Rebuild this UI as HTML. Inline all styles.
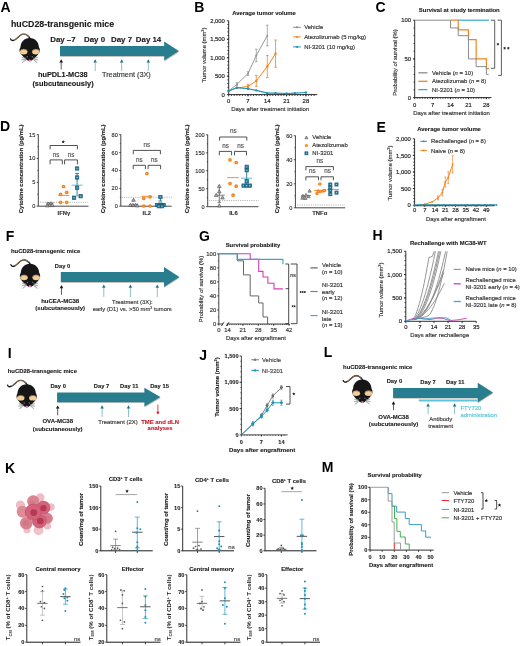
<!DOCTYPE html>
<html><head><meta charset="utf-8"><title>Figure</title>
<style>
html,body{margin:0;padding:0;background:#fff;}
svg{display:block;filter:blur(0.3px);font-family:"Liberation Sans",sans-serif;}
</style></head>
<body>
<svg width="520" height="646" viewBox="0 0 520 646">
<rect width="520" height="646" fill="#fff"/>
<text x="0.5" y="11.5" font-size="14" font-weight="bold" fill="#000">A</text>
<text x="11" y="27.2" font-size="8.8" font-weight="bold" fill="#1a1a1a" stroke="#1a1a1a" stroke-width="0.12">huCD28-transgenic mice</text>
<g transform="translate(0 0) scale(1)">
<path d="M10.6 38.9 C10.9 40.6 12.6 40.9 14.6 40.0 C17.4 38.7 19.3 35.2 22.0 34.4 C25.0 33.6 27.8 34.8 30.0 38.4" fill="none" stroke="#1a1a1a" stroke-width="1.35" stroke-linecap="round"/>
<path d="M14.8 39.7 C17.4 38.5 19.3 35.1 22.0 34.5 C24.8 33.8 27.0 34.6 28.6 36.2" fill="none" stroke="#d4a872" stroke-width="0.6" stroke-linecap="round"/>
<path d="M29.7 38.0 C24.2 38.0 20.7 42.0 20.5 47.0 C19.3 48.8 19.0 51.8 20.6 53.6 C22.6 56.2 26.0 60.4 29.7 61.4 C33.4 60.4 36.8 56.2 38.8 53.6 C40.4 51.8 40.1 48.8 38.9 47.0 C38.7 42.0 35.2 38.0 29.7 38.0 Z" fill="#161616"/>
<ellipse cx="23.7" cy="51.7" rx="3.8" ry="2.7" fill="#f2cd95"/>
<path d="M20 51.0 Q23.7 47.3 27.4 51.0" fill="none" stroke="#6b4a2a" stroke-width="0.55"/>
<ellipse cx="35.9" cy="51.7" rx="3.8" ry="2.7" fill="#f2cd95"/>
<path d="M32.2 51.0 Q35.9 47.3 39.6 51.0" fill="none" stroke="#6b4a2a" stroke-width="0.55"/>
<circle cx="27.2" cy="56.7" r="0.75" fill="#6a6a6a"/>
<circle cx="32.3" cy="56.7" r="0.75" fill="#6a6a6a"/>
<ellipse cx="29.7" cy="60.5" rx="1.3" ry="0.95" fill="#f47fb8"/>
<line x1="26.1" y1="58.4" x2="21.8" y2="57.5" stroke="#555" stroke-width="0.7"/>
<line x1="26.1" y1="58.4" x2="21.8" y2="57.5" stroke="#f4f4f4" stroke-width="0.35"/>
<line x1="26.1" y1="59.1" x2="21.5" y2="60" stroke="#555" stroke-width="0.7"/>
<line x1="26.1" y1="59.1" x2="21.5" y2="60" stroke="#f4f4f4" stroke-width="0.35"/>
<line x1="26.1" y1="59.7" x2="22.3" y2="62.6" stroke="#555" stroke-width="0.7"/>
<line x1="26.1" y1="59.7" x2="22.3" y2="62.6" stroke="#f4f4f4" stroke-width="0.35"/>
<line x1="33.3" y1="58.4" x2="37.6" y2="57.5" stroke="#555" stroke-width="0.7"/>
<line x1="33.3" y1="58.4" x2="37.6" y2="57.5" stroke="#f4f4f4" stroke-width="0.35"/>
<line x1="33.3" y1="59.1" x2="37.9" y2="60" stroke="#555" stroke-width="0.7"/>
<line x1="33.3" y1="59.1" x2="37.9" y2="60" stroke="#f4f4f4" stroke-width="0.35"/>
<line x1="33.3" y1="59.7" x2="37.1" y2="62.6" stroke="#555" stroke-width="0.7"/>
<line x1="33.3" y1="59.7" x2="37.1" y2="62.6" stroke="#f4f4f4" stroke-width="0.35"/>
</g>
<text x="50.2" y="42.3" font-size="7.9" font-weight="bold" fill="#1a1a1a" stroke="#1a1a1a" stroke-width="0.12">Day &#8211;7</text>
<text x="84" y="42.3" font-size="7.9" font-weight="bold" fill="#1a1a1a" stroke="#1a1a1a" stroke-width="0.12">Day 0</text>
<text x="111" y="42.3" font-size="7.9" font-weight="bold" fill="#1a1a1a" stroke="#1a1a1a" stroke-width="0.12">Day 7</text>
<text x="135.8" y="42.3" font-size="7.9" font-weight="bold" fill="#1a1a1a" stroke="#1a1a1a" stroke-width="0.12">Day 14</text>
<polygon points="60.3,46.9 164.5,46.9 164.5,42.3 179.2,51.9 164.5,61.5 164.5,56.9 60.3,56.9" fill="#c9c3c0"/>
<polygon points="60,46 164.2,46 164.2,41.4 178.9,51 164.2,60.6 164.2,56 60,56" fill="#287d8f"/>
<line x1="61.2" y1="61.54" x2="61.2" y2="69.5" stroke="#444" stroke-width="0.85"/>
<polygon points="61.2,59.3 59.45,62.5 62.95,62.5" fill="#111"/>
<line x1="95.2" y1="61.54" x2="95.2" y2="71" stroke="#7db3bf" stroke-width="0.85"/>
<polygon points="95.2,59.3 93.45,62.5 96.95,62.5" fill="#1f7486"/>
<line x1="121.7" y1="61.54" x2="121.7" y2="71" stroke="#7db3bf" stroke-width="0.85"/>
<polygon points="121.7,59.3 119.95,62.5 123.45,62.5" fill="#1f7486"/>
<line x1="148.3" y1="61.54" x2="148.3" y2="71" stroke="#7db3bf" stroke-width="0.85"/>
<polygon points="148.3,59.3 146.55,62.5 150.05,62.5" fill="#1f7486"/>
<text x="62.8" y="77.3" font-size="7.35" font-weight="bold" text-anchor="middle" fill="#1a1a1a" stroke="#1a1a1a" stroke-width="0.12">huPDL1-MC38</text>
<text x="63" y="86.2" font-size="7.4" font-weight="bold" text-anchor="middle" fill="#1a1a1a" stroke="#1a1a1a" stroke-width="0.12">(subcutaneously)</text>
<text x="102" y="77.4" font-size="7.3" fill="#3a3a3a" stroke="#3a3a3a" stroke-width="0.16">Treatment (3X)</text>
<text x="194.2" y="11.5" font-size="14" font-weight="bold" fill="#000">B</text>
<text x="264" y="14.6" font-size="5.9" font-weight="bold" text-anchor="middle" fill="#1a1a1a" stroke="#1a1a1a" stroke-width="0.12">Average tumor volume</text>
<line x1="228.7" y1="20.8" x2="228.7" y2="94.6" stroke="#1a1a1a" stroke-width="0.9"/>
<line x1="226.9" y1="94.6" x2="228.7" y2="94.6" stroke="#1a1a1a" stroke-width="0.9"/>
<text x="224.9" y="96.72" font-size="5.9" text-anchor="end" fill="#1a1a1a" stroke="#1a1a1a" stroke-width="0.16">0</text>
<line x1="226.9" y1="76.15" x2="228.7" y2="76.15" stroke="#1a1a1a" stroke-width="0.9"/>
<text x="224.9" y="78.27" font-size="5.9" text-anchor="end" fill="#1a1a1a" stroke="#1a1a1a" stroke-width="0.16">500</text>
<line x1="226.9" y1="57.7" x2="228.7" y2="57.7" stroke="#1a1a1a" stroke-width="0.9"/>
<text x="224.9" y="59.82" font-size="5.9" text-anchor="end" fill="#1a1a1a" stroke="#1a1a1a" stroke-width="0.16">1,000</text>
<line x1="226.9" y1="39.25" x2="228.7" y2="39.25" stroke="#1a1a1a" stroke-width="0.9"/>
<text x="224.9" y="41.37" font-size="5.9" text-anchor="end" fill="#1a1a1a" stroke="#1a1a1a" stroke-width="0.16">1,500</text>
<line x1="226.9" y1="20.8" x2="228.7" y2="20.8" stroke="#1a1a1a" stroke-width="0.9"/>
<text x="224.9" y="22.92" font-size="5.9" text-anchor="end" fill="#1a1a1a" stroke="#1a1a1a" stroke-width="0.16">2,000</text>
<line x1="227.35" y1="90.91" x2="228.7" y2="90.91" stroke="#1a1a1a" stroke-width="0.81"/>
<line x1="227.35" y1="87.22" x2="228.7" y2="87.22" stroke="#1a1a1a" stroke-width="0.81"/>
<line x1="227.35" y1="83.53" x2="228.7" y2="83.53" stroke="#1a1a1a" stroke-width="0.81"/>
<line x1="227.35" y1="79.84" x2="228.7" y2="79.84" stroke="#1a1a1a" stroke-width="0.81"/>
<line x1="227.35" y1="76.15" x2="228.7" y2="76.15" stroke="#1a1a1a" stroke-width="0.81"/>
<line x1="227.35" y1="72.46" x2="228.7" y2="72.46" stroke="#1a1a1a" stroke-width="0.81"/>
<line x1="227.35" y1="68.77" x2="228.7" y2="68.77" stroke="#1a1a1a" stroke-width="0.81"/>
<line x1="227.35" y1="65.08" x2="228.7" y2="65.08" stroke="#1a1a1a" stroke-width="0.81"/>
<line x1="227.35" y1="61.39" x2="228.7" y2="61.39" stroke="#1a1a1a" stroke-width="0.81"/>
<line x1="227.35" y1="57.7" x2="228.7" y2="57.7" stroke="#1a1a1a" stroke-width="0.81"/>
<line x1="227.35" y1="54.01" x2="228.7" y2="54.01" stroke="#1a1a1a" stroke-width="0.81"/>
<line x1="227.35" y1="50.32" x2="228.7" y2="50.32" stroke="#1a1a1a" stroke-width="0.81"/>
<line x1="227.35" y1="46.63" x2="228.7" y2="46.63" stroke="#1a1a1a" stroke-width="0.81"/>
<line x1="227.35" y1="42.94" x2="228.7" y2="42.94" stroke="#1a1a1a" stroke-width="0.81"/>
<line x1="227.35" y1="39.25" x2="228.7" y2="39.25" stroke="#1a1a1a" stroke-width="0.81"/>
<line x1="227.35" y1="35.56" x2="228.7" y2="35.56" stroke="#1a1a1a" stroke-width="0.81"/>
<line x1="227.35" y1="31.87" x2="228.7" y2="31.87" stroke="#1a1a1a" stroke-width="0.81"/>
<line x1="227.35" y1="28.18" x2="228.7" y2="28.18" stroke="#1a1a1a" stroke-width="0.81"/>
<line x1="227.35" y1="24.49" x2="228.7" y2="24.49" stroke="#1a1a1a" stroke-width="0.81"/>
<line x1="228.7" y1="94.6" x2="317.3" y2="94.6" stroke="#1a1a1a" stroke-width="0.9"/>
<line x1="228.7" y1="94.6" x2="228.7" y2="96.4" stroke="#1a1a1a" stroke-width="0.9"/>
<text x="228.7" y="102.9" font-size="5.9" text-anchor="middle" fill="#1a1a1a" stroke="#1a1a1a" stroke-width="0.16">0</text>
<line x1="248" y1="94.6" x2="248" y2="96.4" stroke="#1a1a1a" stroke-width="0.9"/>
<text x="248" y="102.9" font-size="5.9" text-anchor="middle" fill="#1a1a1a" stroke="#1a1a1a" stroke-width="0.16">7</text>
<line x1="267.3" y1="94.6" x2="267.3" y2="96.4" stroke="#1a1a1a" stroke-width="0.9"/>
<text x="267.3" y="102.9" font-size="5.9" text-anchor="middle" fill="#1a1a1a" stroke="#1a1a1a" stroke-width="0.16">14</text>
<line x1="286.6" y1="94.6" x2="286.6" y2="96.4" stroke="#1a1a1a" stroke-width="0.9"/>
<text x="286.6" y="102.9" font-size="5.9" text-anchor="middle" fill="#1a1a1a" stroke="#1a1a1a" stroke-width="0.16">21</text>
<line x1="305.9" y1="94.6" x2="305.9" y2="96.4" stroke="#1a1a1a" stroke-width="0.9"/>
<text x="305.9" y="102.9" font-size="5.9" text-anchor="middle" fill="#1a1a1a" stroke="#1a1a1a" stroke-width="0.16">28</text>
<line x1="231.46" y1="94.6" x2="231.46" y2="95.95" stroke="#1a1a1a" stroke-width="0.81"/>
<line x1="234.21" y1="94.6" x2="234.21" y2="95.95" stroke="#1a1a1a" stroke-width="0.81"/>
<line x1="236.97" y1="94.6" x2="236.97" y2="95.95" stroke="#1a1a1a" stroke-width="0.81"/>
<line x1="239.73" y1="94.6" x2="239.73" y2="95.95" stroke="#1a1a1a" stroke-width="0.81"/>
<line x1="242.48" y1="94.6" x2="242.48" y2="95.95" stroke="#1a1a1a" stroke-width="0.81"/>
<line x1="245.24" y1="94.6" x2="245.24" y2="95.95" stroke="#1a1a1a" stroke-width="0.81"/>
<line x1="248" y1="94.6" x2="248" y2="95.95" stroke="#1a1a1a" stroke-width="0.81"/>
<line x1="250.76" y1="94.6" x2="250.76" y2="95.95" stroke="#1a1a1a" stroke-width="0.81"/>
<line x1="253.51" y1="94.6" x2="253.51" y2="95.95" stroke="#1a1a1a" stroke-width="0.81"/>
<line x1="256.27" y1="94.6" x2="256.27" y2="95.95" stroke="#1a1a1a" stroke-width="0.81"/>
<line x1="259.03" y1="94.6" x2="259.03" y2="95.95" stroke="#1a1a1a" stroke-width="0.81"/>
<line x1="261.78" y1="94.6" x2="261.78" y2="95.95" stroke="#1a1a1a" stroke-width="0.81"/>
<line x1="264.54" y1="94.6" x2="264.54" y2="95.95" stroke="#1a1a1a" stroke-width="0.81"/>
<line x1="267.3" y1="94.6" x2="267.3" y2="95.95" stroke="#1a1a1a" stroke-width="0.81"/>
<line x1="270.06" y1="94.6" x2="270.06" y2="95.95" stroke="#1a1a1a" stroke-width="0.81"/>
<line x1="272.81" y1="94.6" x2="272.81" y2="95.95" stroke="#1a1a1a" stroke-width="0.81"/>
<line x1="275.57" y1="94.6" x2="275.57" y2="95.95" stroke="#1a1a1a" stroke-width="0.81"/>
<line x1="278.33" y1="94.6" x2="278.33" y2="95.95" stroke="#1a1a1a" stroke-width="0.81"/>
<line x1="281.08" y1="94.6" x2="281.08" y2="95.95" stroke="#1a1a1a" stroke-width="0.81"/>
<line x1="283.84" y1="94.6" x2="283.84" y2="95.95" stroke="#1a1a1a" stroke-width="0.81"/>
<line x1="286.6" y1="94.6" x2="286.6" y2="95.95" stroke="#1a1a1a" stroke-width="0.81"/>
<line x1="289.35" y1="94.6" x2="289.35" y2="95.95" stroke="#1a1a1a" stroke-width="0.81"/>
<line x1="292.11" y1="94.6" x2="292.11" y2="95.95" stroke="#1a1a1a" stroke-width="0.81"/>
<line x1="294.87" y1="94.6" x2="294.87" y2="95.95" stroke="#1a1a1a" stroke-width="0.81"/>
<line x1="297.62" y1="94.6" x2="297.62" y2="95.95" stroke="#1a1a1a" stroke-width="0.81"/>
<line x1="300.38" y1="94.6" x2="300.38" y2="95.95" stroke="#1a1a1a" stroke-width="0.81"/>
<line x1="303.14" y1="94.6" x2="303.14" y2="95.95" stroke="#1a1a1a" stroke-width="0.81"/>
<line x1="305.9" y1="94.6" x2="305.9" y2="95.95" stroke="#1a1a1a" stroke-width="0.81"/>
<line x1="308.65" y1="94.6" x2="308.65" y2="95.95" stroke="#1a1a1a" stroke-width="0.81"/>
<line x1="311.41" y1="94.6" x2="311.41" y2="95.95" stroke="#1a1a1a" stroke-width="0.81"/>
<line x1="314.17" y1="94.6" x2="314.17" y2="95.95" stroke="#1a1a1a" stroke-width="0.81"/>
<text x="270.2" y="110.8" font-size="6" text-anchor="middle" fill="#333" stroke="#333" stroke-width="0.16">Days after treatment initiation</text>
<text transform="translate(206.2 55) rotate(-90)" font-size="5.9" text-anchor="middle" fill="#333" stroke="#333" stroke-width="0.16">Tumor volume (mm<tspan font-size="3.8" dy="-2">3</tspan><tspan dy="2">)</tspan></text>
<polyline points="228.7,90.91 236.97,84.27 248,73.57 256.27,55.49 267.3,35.56" fill="none" stroke="#8c8c8c" stroke-width="0.9"/>
<line x1="236.97" y1="85.74" x2="236.97" y2="82.79" stroke="#8c8c8c" stroke-width="0.7"/>
<line x1="235.67" y1="85.74" x2="238.27" y2="85.74" stroke="#8c8c8c" stroke-width="0.7"/>
<line x1="235.67" y1="82.79" x2="238.27" y2="82.79" stroke="#8c8c8c" stroke-width="0.7"/>
<line x1="248" y1="75.41" x2="248" y2="71.72" stroke="#8c8c8c" stroke-width="0.7"/>
<line x1="246.7" y1="75.41" x2="249.3" y2="75.41" stroke="#8c8c8c" stroke-width="0.7"/>
<line x1="246.7" y1="71.72" x2="249.3" y2="71.72" stroke="#8c8c8c" stroke-width="0.7"/>
<line x1="256.27" y1="61.76" x2="256.27" y2="49.21" stroke="#8c8c8c" stroke-width="0.7"/>
<line x1="254.97" y1="61.76" x2="257.57" y2="61.76" stroke="#8c8c8c" stroke-width="0.7"/>
<line x1="254.97" y1="49.21" x2="257.57" y2="49.21" stroke="#8c8c8c" stroke-width="0.7"/>
<line x1="267.3" y1="45.89" x2="267.3" y2="25.23" stroke="#8c8c8c" stroke-width="0.7"/>
<line x1="266" y1="45.89" x2="268.6" y2="45.89" stroke="#8c8c8c" stroke-width="0.7"/>
<line x1="266" y1="25.23" x2="268.6" y2="25.23" stroke="#8c8c8c" stroke-width="0.7"/>
<circle cx="228.7" cy="90.91" r="0.9" fill="#8c8c8c"/>
<circle cx="236.97" cy="84.27" r="0.9" fill="#8c8c8c"/>
<circle cx="248" cy="73.57" r="0.9" fill="#8c8c8c"/>
<circle cx="256.27" cy="55.49" r="0.9" fill="#8c8c8c"/>
<circle cx="267.3" cy="35.56" r="0.9" fill="#8c8c8c"/>
<polyline points="228.7,90.91 236.97,87.96 248,86.48 256.27,80.95 267.3,66.56 275.57,53.64" fill="none" stroke="#f58220" stroke-width="1"/>
<line x1="248" y1="88.7" x2="248" y2="84.27" stroke="#f58220" stroke-width="0.8"/>
<line x1="246.7" y1="88.7" x2="249.3" y2="88.7" stroke="#f58220" stroke-width="0.8"/>
<line x1="246.7" y1="84.27" x2="249.3" y2="84.27" stroke="#f58220" stroke-width="0.8"/>
<line x1="256.27" y1="86.48" x2="256.27" y2="75.41" stroke="#f58220" stroke-width="0.8"/>
<line x1="254.97" y1="86.48" x2="257.57" y2="86.48" stroke="#f58220" stroke-width="0.8"/>
<line x1="254.97" y1="75.41" x2="257.57" y2="75.41" stroke="#f58220" stroke-width="0.8"/>
<line x1="267.3" y1="77.63" x2="267.3" y2="55.49" stroke="#f58220" stroke-width="0.8"/>
<line x1="266" y1="77.63" x2="268.6" y2="77.63" stroke="#f58220" stroke-width="0.8"/>
<line x1="266" y1="55.49" x2="268.6" y2="55.49" stroke="#f58220" stroke-width="0.8"/>
<line x1="275.57" y1="67.29" x2="275.57" y2="39.99" stroke="#f58220" stroke-width="0.8"/>
<line x1="274.27" y1="67.29" x2="276.87" y2="67.29" stroke="#f58220" stroke-width="0.8"/>
<line x1="274.27" y1="39.99" x2="276.87" y2="39.99" stroke="#f58220" stroke-width="0.8"/>
<circle cx="228.7" cy="90.91" r="1.2" fill="#f58220"/>
<circle cx="236.97" cy="87.96" r="1.2" fill="#f58220"/>
<circle cx="248" cy="86.48" r="1.2" fill="#f58220"/>
<circle cx="256.27" cy="80.95" r="1.2" fill="#f58220"/>
<circle cx="267.3" cy="66.56" r="1.2" fill="#f58220"/>
<circle cx="275.57" cy="53.64" r="1.2" fill="#f58220"/>
<polyline points="228.7,90.91 236.97,87.59 248,88.7 256.27,90.36 267.3,93.12 275.57,93.12 286.6,93.49 294.87,93.12 305.9,92.57" fill="none" stroke="#1f93b6" stroke-width="1.1"/>
<circle cx="228.7" cy="90.91" r="1.2" fill="#1f93b6"/>
<circle cx="236.97" cy="87.59" r="1.2" fill="#1f93b6"/>
<circle cx="248" cy="88.7" r="1.2" fill="#1f93b6"/>
<circle cx="256.27" cy="90.36" r="1.2" fill="#1f93b6"/>
<circle cx="267.3" cy="93.12" r="1.2" fill="#1f93b6"/>
<circle cx="275.57" cy="93.12" r="1.2" fill="#1f93b6"/>
<circle cx="286.6" cy="93.49" r="1.2" fill="#1f93b6"/>
<circle cx="294.87" cy="93.12" r="1.2" fill="#1f93b6"/>
<circle cx="305.9" cy="92.57" r="1.2" fill="#1f93b6"/>
<line x1="293.1" y1="27.3" x2="300.8" y2="27.3" stroke="#8c8c8c" stroke-width="1"/>
<circle cx="297" cy="27.3" r="1" fill="#8c8c8c"/>
<text x="304.2" y="29.4" font-size="5.9" fill="#333" stroke="#333" stroke-width="0.16">Vehicle</text>
<line x1="293.1" y1="36.9" x2="300.8" y2="36.9" stroke="#f58220" stroke-width="1"/>
<circle cx="297" cy="36.9" r="1" fill="#f58220"/>
<text x="304.2" y="39" font-size="5.9" fill="#333" stroke="#333" stroke-width="0.16">Atezolizumab (5 mg/kg)</text>
<line x1="293.1" y1="46.9" x2="300.8" y2="46.9" stroke="#1f93b6" stroke-width="1"/>
<circle cx="297" cy="46.9" r="1" fill="#1f93b6"/>
<text x="304.2" y="49" font-size="5.9" fill="#333" stroke="#333" stroke-width="0.16">NI-3201 (10 mg/kg)</text>
<text x="375.5" y="11.6" font-size="14" font-weight="bold" fill="#000">C</text>
<text x="459.3" y="11.8" font-size="5.9" font-weight="bold" text-anchor="middle" fill="#1a1a1a" stroke="#1a1a1a" stroke-width="0.12">Survival at study termination</text>
<line x1="414.7" y1="20.2" x2="414.7" y2="97.6" stroke="#1a1a1a" stroke-width="0.9"/>
<line x1="413.1" y1="97.6" x2="414.7" y2="97.6" stroke="#1a1a1a" stroke-width="0.9"/>
<text x="411.1" y="99.72" font-size="5.9" text-anchor="end" fill="#1a1a1a" stroke="#1a1a1a" stroke-width="0.16">0</text>
<line x1="413.1" y1="58.9" x2="414.7" y2="58.9" stroke="#1a1a1a" stroke-width="0.9"/>
<text x="411.1" y="61.02" font-size="5.9" text-anchor="end" fill="#1a1a1a" stroke="#1a1a1a" stroke-width="0.16">50</text>
<line x1="413.1" y1="20.2" x2="414.7" y2="20.2" stroke="#1a1a1a" stroke-width="0.9"/>
<text x="411.1" y="22.32" font-size="5.9" text-anchor="end" fill="#1a1a1a" stroke="#1a1a1a" stroke-width="0.16">100</text>
<line x1="413.5" y1="89.86" x2="414.7" y2="89.86" stroke="#1a1a1a" stroke-width="0.81"/>
<line x1="413.5" y1="82.12" x2="414.7" y2="82.12" stroke="#1a1a1a" stroke-width="0.81"/>
<line x1="413.5" y1="74.38" x2="414.7" y2="74.38" stroke="#1a1a1a" stroke-width="0.81"/>
<line x1="413.5" y1="66.64" x2="414.7" y2="66.64" stroke="#1a1a1a" stroke-width="0.81"/>
<line x1="413.5" y1="58.9" x2="414.7" y2="58.9" stroke="#1a1a1a" stroke-width="0.81"/>
<line x1="413.5" y1="51.16" x2="414.7" y2="51.16" stroke="#1a1a1a" stroke-width="0.81"/>
<line x1="413.5" y1="43.42" x2="414.7" y2="43.42" stroke="#1a1a1a" stroke-width="0.81"/>
<line x1="413.5" y1="35.68" x2="414.7" y2="35.68" stroke="#1a1a1a" stroke-width="0.81"/>
<line x1="413.5" y1="27.94" x2="414.7" y2="27.94" stroke="#1a1a1a" stroke-width="0.81"/>
<line x1="414.7" y1="97.6" x2="491.5" y2="97.6" stroke="#1a1a1a" stroke-width="0.9"/>
<line x1="414.7" y1="97.6" x2="414.7" y2="99.2" stroke="#1a1a1a" stroke-width="0.9"/>
<text x="414.7" y="106.8" font-size="5.9" text-anchor="middle" fill="#1a1a1a" stroke="#1a1a1a" stroke-width="0.16">0</text>
<line x1="432.62" y1="97.6" x2="432.62" y2="99.2" stroke="#1a1a1a" stroke-width="0.9"/>
<text x="432.62" y="106.8" font-size="5.9" text-anchor="middle" fill="#1a1a1a" stroke="#1a1a1a" stroke-width="0.16">7</text>
<line x1="450.54" y1="97.6" x2="450.54" y2="99.2" stroke="#1a1a1a" stroke-width="0.9"/>
<text x="450.54" y="106.8" font-size="5.9" text-anchor="middle" fill="#1a1a1a" stroke="#1a1a1a" stroke-width="0.16">14</text>
<line x1="468.46" y1="97.6" x2="468.46" y2="99.2" stroke="#1a1a1a" stroke-width="0.9"/>
<text x="468.46" y="106.8" font-size="5.9" text-anchor="middle" fill="#1a1a1a" stroke="#1a1a1a" stroke-width="0.16">21</text>
<line x1="486.38" y1="97.6" x2="486.38" y2="99.2" stroke="#1a1a1a" stroke-width="0.9"/>
<text x="486.38" y="106.8" font-size="5.9" text-anchor="middle" fill="#1a1a1a" stroke="#1a1a1a" stroke-width="0.16">28</text>
<line x1="417.26" y1="97.6" x2="417.26" y2="98.8" stroke="#1a1a1a" stroke-width="0.81"/>
<line x1="419.82" y1="97.6" x2="419.82" y2="98.8" stroke="#1a1a1a" stroke-width="0.81"/>
<line x1="422.38" y1="97.6" x2="422.38" y2="98.8" stroke="#1a1a1a" stroke-width="0.81"/>
<line x1="424.94" y1="97.6" x2="424.94" y2="98.8" stroke="#1a1a1a" stroke-width="0.81"/>
<line x1="427.5" y1="97.6" x2="427.5" y2="98.8" stroke="#1a1a1a" stroke-width="0.81"/>
<line x1="430.06" y1="97.6" x2="430.06" y2="98.8" stroke="#1a1a1a" stroke-width="0.81"/>
<line x1="432.62" y1="97.6" x2="432.62" y2="98.8" stroke="#1a1a1a" stroke-width="0.81"/>
<line x1="435.18" y1="97.6" x2="435.18" y2="98.8" stroke="#1a1a1a" stroke-width="0.81"/>
<line x1="437.74" y1="97.6" x2="437.74" y2="98.8" stroke="#1a1a1a" stroke-width="0.81"/>
<line x1="440.3" y1="97.6" x2="440.3" y2="98.8" stroke="#1a1a1a" stroke-width="0.81"/>
<line x1="442.86" y1="97.6" x2="442.86" y2="98.8" stroke="#1a1a1a" stroke-width="0.81"/>
<line x1="445.42" y1="97.6" x2="445.42" y2="98.8" stroke="#1a1a1a" stroke-width="0.81"/>
<line x1="447.98" y1="97.6" x2="447.98" y2="98.8" stroke="#1a1a1a" stroke-width="0.81"/>
<line x1="450.54" y1="97.6" x2="450.54" y2="98.8" stroke="#1a1a1a" stroke-width="0.81"/>
<line x1="453.1" y1="97.6" x2="453.1" y2="98.8" stroke="#1a1a1a" stroke-width="0.81"/>
<line x1="455.66" y1="97.6" x2="455.66" y2="98.8" stroke="#1a1a1a" stroke-width="0.81"/>
<line x1="458.22" y1="97.6" x2="458.22" y2="98.8" stroke="#1a1a1a" stroke-width="0.81"/>
<line x1="460.78" y1="97.6" x2="460.78" y2="98.8" stroke="#1a1a1a" stroke-width="0.81"/>
<line x1="463.34" y1="97.6" x2="463.34" y2="98.8" stroke="#1a1a1a" stroke-width="0.81"/>
<line x1="465.9" y1="97.6" x2="465.9" y2="98.8" stroke="#1a1a1a" stroke-width="0.81"/>
<line x1="468.46" y1="97.6" x2="468.46" y2="98.8" stroke="#1a1a1a" stroke-width="0.81"/>
<line x1="471.02" y1="97.6" x2="471.02" y2="98.8" stroke="#1a1a1a" stroke-width="0.81"/>
<line x1="473.58" y1="97.6" x2="473.58" y2="98.8" stroke="#1a1a1a" stroke-width="0.81"/>
<line x1="476.14" y1="97.6" x2="476.14" y2="98.8" stroke="#1a1a1a" stroke-width="0.81"/>
<line x1="478.7" y1="97.6" x2="478.7" y2="98.8" stroke="#1a1a1a" stroke-width="0.81"/>
<line x1="481.26" y1="97.6" x2="481.26" y2="98.8" stroke="#1a1a1a" stroke-width="0.81"/>
<line x1="483.82" y1="97.6" x2="483.82" y2="98.8" stroke="#1a1a1a" stroke-width="0.81"/>
<line x1="486.38" y1="97.6" x2="486.38" y2="98.8" stroke="#1a1a1a" stroke-width="0.81"/>
<line x1="488.94" y1="97.6" x2="488.94" y2="98.8" stroke="#1a1a1a" stroke-width="0.81"/>
<text x="451.6" y="114.7" font-size="5.9" text-anchor="middle" fill="#333" stroke="#333" stroke-width="0.16">Days after treatment initiation</text>
<text transform="translate(396.6 62.5) rotate(-90)" font-size="5.9" text-anchor="middle" fill="#333" stroke="#333" stroke-width="0.16">Probability of survival (%)</text>
<polyline points="458.22,29.87 468.46,29.87 468.46,39.55 476.14,39.55 476.14,58.9 486.38,58.9 486.38,68.57 488.94,68.57" fill="none" stroke="#f58220" stroke-width="1.2"/>
<polyline points="450.54,20.2 458.22,20.2 458.22,29.87" fill="none" stroke="#f58220" stroke-width="1.2"/>
<polyline points="450.54,27.94 458.22,27.94 458.22,35.68 468.46,35.68 468.46,58.9 476.14,58.9 476.14,66.64 486.38,66.64 486.38,74.38 486.38,74.38" fill="none" stroke="#8c8c8c" stroke-width="1"/>
<polyline points="414.7,20.2 450.54,20.2 450.54,27.94" fill="none" stroke="#8c8c8c" stroke-width="1"/>
<polyline points="486.38,74.38 488.68,74.38" fill="none" stroke="#8c8c8c" stroke-width="1"/>
<polyline points="458.22,20.2 489,20.2" fill="none" stroke="#3aa6cc" stroke-width="1.2"/>
<polyline points="490.8,20.2 494.7,20.2 494.7,68.3 490.8,68.3" fill="none" stroke="#333" stroke-width="0.8"/>
<line x1="497.9" y1="42.95" x2="497.9" y2="45.45" stroke="#1a1a1a" stroke-width="0.75"/>
<line x1="498.98" y1="43.58" x2="496.82" y2="44.83" stroke="#1a1a1a" stroke-width="0.75"/>
<line x1="498.98" y1="44.83" x2="496.82" y2="43.58" stroke="#1a1a1a" stroke-width="0.75"/>
<polyline points="497.6,20.2 501.4,20.2 501.4,75.4 498.1,75.4" fill="none" stroke="#333" stroke-width="0.8"/>
<line x1="504.6" y1="46.95" x2="504.6" y2="49.45" stroke="#1a1a1a" stroke-width="0.75"/>
<line x1="505.68" y1="47.58" x2="503.52" y2="48.83" stroke="#1a1a1a" stroke-width="0.75"/>
<line x1="505.68" y1="48.83" x2="503.52" y2="47.58" stroke="#1a1a1a" stroke-width="0.75"/>
<line x1="508.3" y1="46.95" x2="508.3" y2="49.45" stroke="#1a1a1a" stroke-width="0.75"/>
<line x1="509.38" y1="47.58" x2="507.22" y2="48.83" stroke="#1a1a1a" stroke-width="0.75"/>
<line x1="509.38" y1="48.83" x2="507.22" y2="47.58" stroke="#1a1a1a" stroke-width="0.75"/>
<line x1="418.4" y1="72.8" x2="427.5" y2="72.8" stroke="#8c8c8c" stroke-width="1.3"/>
<text x="432" y="74.9" font-size="5.9" fill="#333" stroke="#333" stroke-width="0.16">Vehicle (<tspan font-style="italic">n</tspan> = 10)</text>
<line x1="418.4" y1="81.3" x2="427.5" y2="81.3" stroke="#f58220" stroke-width="1.3"/>
<text x="432" y="83.4" font-size="5.9" fill="#333" stroke="#333" stroke-width="0.16">Atezolizumab (<tspan font-style="italic">n</tspan> = 8)</text>
<line x1="418.4" y1="89.6" x2="427.5" y2="89.6" stroke="#3aa6cc" stroke-width="1.3"/>
<text x="432" y="91.7" font-size="5.9" fill="#333" stroke="#333" stroke-width="0.16">NI-3201 (<tspan font-style="italic">n</tspan> = 10)</text>
<text x="0" y="131.3" font-size="14" font-weight="bold" fill="#000">D</text>
<line x1="38.3" y1="134.4" x2="38.3" y2="206.2" stroke="#222" stroke-width="0.85"/>
<line x1="36.7" y1="206.2" x2="38.3" y2="206.2" stroke="#222" stroke-width="0.8"/>
<text x="35.3" y="208.15" font-size="5.6" text-anchor="end" fill="#2a2a2a" stroke="#2a2a2a" stroke-width="0.12">0</text>
<line x1="36.7" y1="182.4" x2="38.3" y2="182.4" stroke="#222" stroke-width="0.8"/>
<text x="35.3" y="184.35" font-size="5.6" text-anchor="end" fill="#2a2a2a" stroke="#2a2a2a" stroke-width="0.12">5</text>
<line x1="36.7" y1="158.5" x2="38.3" y2="158.5" stroke="#222" stroke-width="0.8"/>
<text x="35.3" y="160.45" font-size="5.6" text-anchor="end" fill="#2a2a2a" stroke="#2a2a2a" stroke-width="0.12">10</text>
<line x1="36.7" y1="134.6" x2="38.3" y2="134.6" stroke="#222" stroke-width="0.8"/>
<text x="35.3" y="136.55" font-size="5.6" text-anchor="end" fill="#2a2a2a" stroke="#2a2a2a" stroke-width="0.12">15</text>
<line x1="37.3" y1="194.3" x2="38.3" y2="194.3" stroke="#222" stroke-width="0.6"/>
<line x1="37.3" y1="170.5" x2="38.3" y2="170.5" stroke="#222" stroke-width="0.6"/>
<line x1="37.3" y1="146.6" x2="38.3" y2="146.6" stroke="#222" stroke-width="0.6"/>
<line x1="38.3" y1="206.2" x2="88.5" y2="206.2" stroke="#333" stroke-width="0.9"/>
<text transform="translate(22.8 168.8) rotate(-90)" font-size="5.9" font-weight="bold" text-anchor="middle" fill="#1a1a1a" stroke="#1a1a1a" stroke-width="0.12">Cytokine concentration (pg/mL)</text>
<text x="64" y="215" font-size="5.9" font-weight="bold" text-anchor="middle" fill="#333" stroke="#333" stroke-width="0.12">IFN&#947;</text>
<line x1="40" y1="202.3" x2="88.5" y2="202.3" stroke="#444" stroke-width="0.6" stroke-dasharray="0.6 1.2"/>
<polyline points="50.1,149.3 50.1,145.5 77.4,145.5 77.4,149.3" fill="none" stroke="#333" stroke-width="0.85"/>
<polygon points="63.2,140.1 63.68,141.24 64.91,141.34 63.97,142.15 64.26,143.36 63.2,142.71 62.14,143.36 62.43,142.15 61.49,141.34 62.72,141.24" fill="#1a1a1a"/>
<polyline points="50.1,164.3 50.1,159.9 62.3,159.9 62.3,164.3" fill="none" stroke="#333" stroke-width="0.85"/>
<polyline points="64.6,164.3 64.6,159.9 77.4,159.9 77.4,164.3" fill="none" stroke="#333" stroke-width="0.85"/>
<text x="56.2" y="157" font-size="6.3" text-anchor="middle" fill="#555" stroke="#555" stroke-width="0.16">ns</text>
<text x="71" y="157" font-size="6.3" text-anchor="middle" fill="#555" stroke="#555" stroke-width="0.16">ns</text>
<line x1="46" y1="203" x2="54" y2="203" stroke="#777" stroke-width="0.8"/>
<polygon points="48.3,201.9 46.49,205.23 50.1,205.23" fill="#a8a8a8" stroke="#505050" stroke-width="0.6"/>
<polygon points="51,201.7 49.2,205.03 52.8,205.03" fill="#a8a8a8" stroke="#505050" stroke-width="0.6"/>
<polygon points="49.6,203.3 47.8,206.62 51.41,206.62" fill="#a8a8a8" stroke="#505050" stroke-width="0.6"/>
<polygon points="52.4,203.3 50.59,206.62 54.2,206.62" fill="#a8a8a8" stroke="#505050" stroke-width="0.6"/>
<polygon points="47.2,203.6 45.4,206.93 49.01,206.93" fill="#a8a8a8" stroke="#505050" stroke-width="0.6"/>
<line x1="58.2" y1="195.4" x2="69.2" y2="195.4" stroke="#f58220" stroke-width="0.9"/>
<circle cx="63.5" cy="186.5" r="1.85" fill="#f58220"/>
<circle cx="63.5" cy="186.5" r="0.55" fill="#fbb36b"/>
<circle cx="66.7" cy="192.3" r="1.85" fill="#f58220"/>
<circle cx="66.7" cy="192.3" r="0.55" fill="#fbb36b"/>
<circle cx="60.5" cy="194.4" r="1.85" fill="#f58220"/>
<circle cx="60.5" cy="194.4" r="0.55" fill="#fbb36b"/>
<circle cx="60.6" cy="202.3" r="1.85" fill="#f58220"/>
<circle cx="60.6" cy="202.3" r="0.55" fill="#fbb36b"/>
<circle cx="66.7" cy="202.3" r="1.85" fill="#f58220"/>
<circle cx="66.7" cy="202.3" r="0.55" fill="#fbb36b"/>
<line x1="77.1" y1="173.4" x2="77.1" y2="196.5" stroke="#1b6f8c" stroke-width="0.9"/>
<line x1="75.2" y1="173.4" x2="78.9" y2="173.4" stroke="#1b6f8c" stroke-width="0.9"/>
<line x1="71.7" y1="185.2" x2="82.6" y2="185.2" stroke="#4fb3d4" stroke-width="0.9"/>
<rect x="75.45" y="166.85" width="3.3" height="3.3" fill="#2f86a6" stroke="#175a73" stroke-width="0.75"/>
<circle cx="77.1" cy="168.5" r="0.55" fill="#9fd3e6"/>
<rect x="75.45" y="175.85" width="3.3" height="3.3" fill="#2f86a6" stroke="#175a73" stroke-width="0.75"/>
<circle cx="77.1" cy="177.5" r="0.55" fill="#9fd3e6"/>
<rect x="75.45" y="186.05" width="3.3" height="3.3" fill="#2f86a6" stroke="#175a73" stroke-width="0.75"/>
<circle cx="77.1" cy="187.7" r="0.55" fill="#9fd3e6"/>
<rect x="78.95" y="194.55" width="3.3" height="3.3" fill="#2f86a6" stroke="#175a73" stroke-width="0.75"/>
<circle cx="80.6" cy="196.2" r="0.55" fill="#9fd3e6"/>
<rect x="72.45" y="196.05" width="3.3" height="3.3" fill="#2f86a6" stroke="#175a73" stroke-width="0.75"/>
<circle cx="74.1" cy="197.7" r="0.55" fill="#9fd3e6"/>
<line x1="120.8" y1="134.4" x2="120.8" y2="206.2" stroke="#222" stroke-width="0.85"/>
<line x1="119.2" y1="206.2" x2="120.8" y2="206.2" stroke="#222" stroke-width="0.8"/>
<text x="117.8" y="208.15" font-size="5.6" text-anchor="end" fill="#2a2a2a" stroke="#2a2a2a" stroke-width="0.12">0</text>
<line x1="119.2" y1="188.4" x2="120.8" y2="188.4" stroke="#222" stroke-width="0.8"/>
<text x="117.8" y="190.35" font-size="5.6" text-anchor="end" fill="#2a2a2a" stroke="#2a2a2a" stroke-width="0.12">20</text>
<line x1="119.2" y1="170.5" x2="120.8" y2="170.5" stroke="#222" stroke-width="0.8"/>
<text x="117.8" y="172.45" font-size="5.6" text-anchor="end" fill="#2a2a2a" stroke="#2a2a2a" stroke-width="0.12">40</text>
<line x1="119.2" y1="152.6" x2="120.8" y2="152.6" stroke="#222" stroke-width="0.8"/>
<text x="117.8" y="154.55" font-size="5.6" text-anchor="end" fill="#2a2a2a" stroke="#2a2a2a" stroke-width="0.12">60</text>
<line x1="119.2" y1="134.7" x2="120.8" y2="134.7" stroke="#222" stroke-width="0.8"/>
<text x="117.8" y="136.65" font-size="5.6" text-anchor="end" fill="#2a2a2a" stroke="#2a2a2a" stroke-width="0.12">80</text>
<line x1="119.8" y1="197.3" x2="120.8" y2="197.3" stroke="#222" stroke-width="0.6"/>
<line x1="119.8" y1="179.4" x2="120.8" y2="179.4" stroke="#222" stroke-width="0.6"/>
<line x1="119.8" y1="161.5" x2="120.8" y2="161.5" stroke="#222" stroke-width="0.6"/>
<line x1="119.8" y1="143.6" x2="120.8" y2="143.6" stroke="#222" stroke-width="0.6"/>
<line x1="120.8" y1="206.2" x2="171.7" y2="206.2" stroke="#333" stroke-width="0.9"/>
<text transform="translate(105.4 168.8) rotate(-90)" font-size="5.9" font-weight="bold" text-anchor="middle" fill="#1a1a1a" stroke="#1a1a1a" stroke-width="0.12">Cytokine concentration (pg/mL)</text>
<text x="146.8" y="215" font-size="5.9" font-weight="bold" text-anchor="middle" fill="#333" stroke="#333" stroke-width="0.12">IL2</text>
<line x1="122.5" y1="197.3" x2="171.7" y2="197.3" stroke="#444" stroke-width="0.6" stroke-dasharray="0.6 1.2"/>
<polyline points="133.3,154.2 133.3,150.4 160.4,150.4 160.4,154.2" fill="none" stroke="#333" stroke-width="0.85"/>
<text x="146.8" y="146.6" font-size="6.3" text-anchor="middle" fill="#555" stroke="#555" stroke-width="0.16">ns</text>
<polyline points="133.2,169.1 133.2,165.3 145.4,165.3 145.4,169.1" fill="none" stroke="#333" stroke-width="0.85"/>
<polyline points="148.1,169.1 148.1,165.3 160.6,165.3 160.6,169.1" fill="none" stroke="#333" stroke-width="0.85"/>
<text x="139.3" y="161.6" font-size="6.3" text-anchor="middle" fill="#555" stroke="#555" stroke-width="0.16">ns</text>
<text x="154.3" y="161.6" font-size="6.3" text-anchor="middle" fill="#555" stroke="#555" stroke-width="0.16">ns</text>
<line x1="129" y1="204.6" x2="138" y2="204.6" stroke="#777" stroke-width="0.8"/>
<polygon points="133.5,198 131.69,201.33 135.31,201.33" fill="#a8a8a8" stroke="#505050" stroke-width="0.6"/>
<polygon points="130.5,203.1 128.69,206.43 132.31,206.43" fill="#a8a8a8" stroke="#505050" stroke-width="0.6"/>
<polygon points="133,203.3 131.19,206.62 134.81,206.62" fill="#a8a8a8" stroke="#505050" stroke-width="0.6"/>
<polygon points="135.6,203.1 133.79,206.43 137.41,206.43" fill="#a8a8a8" stroke="#505050" stroke-width="0.6"/>
<polygon points="137.2,203.7 135.39,207.03 139,207.03" fill="#a8a8a8" stroke="#505050" stroke-width="0.6"/>
<line x1="141.3" y1="196.3" x2="152.4" y2="196.3" stroke="#f58220" stroke-width="0.9"/>
<circle cx="146.9" cy="173.5" r="1.85" fill="#f58220"/>
<circle cx="146.9" cy="173.5" r="0.55" fill="#fbb36b"/>
<circle cx="143.75" cy="198.5" r="1.85" fill="#f58220"/>
<circle cx="143.75" cy="198.5" r="0.55" fill="#fbb36b"/>
<circle cx="150" cy="196.8" r="1.85" fill="#f58220"/>
<circle cx="150" cy="196.8" r="0.55" fill="#fbb36b"/>
<circle cx="143.75" cy="206" r="1.85" fill="#f58220"/>
<circle cx="143.75" cy="206" r="0.55" fill="#fbb36b"/>
<circle cx="150" cy="206" r="1.85" fill="#f58220"/>
<circle cx="150" cy="206" r="0.55" fill="#fbb36b"/>
<line x1="160.4" y1="197" x2="160.4" y2="201" stroke="#1b6f8c" stroke-width="0.9"/>
<line x1="158.6" y1="201" x2="162.2" y2="201" stroke="#1b6f8c" stroke-width="0.9"/>
<rect x="158.75" y="195.35" width="3.3" height="3.3" fill="#2f86a6" stroke="#175a73" stroke-width="0.75"/>
<circle cx="160.4" cy="197" r="0.55" fill="#9fd3e6"/>
<rect x="155.55" y="203.35" width="3.3" height="3.3" fill="#2f86a6" stroke="#175a73" stroke-width="0.75"/>
<circle cx="157.2" cy="205" r="0.55" fill="#9fd3e6"/>
<rect x="158.75" y="202.95" width="3.3" height="3.3" fill="#2f86a6" stroke="#175a73" stroke-width="0.75"/>
<circle cx="160.4" cy="204.6" r="0.55" fill="#9fd3e6"/>
<rect x="161.95" y="203.35" width="3.3" height="3.3" fill="#2f86a6" stroke="#175a73" stroke-width="0.75"/>
<circle cx="163.6" cy="205" r="0.55" fill="#9fd3e6"/>
<rect x="157.15" y="204.55" width="3.3" height="3.3" fill="#2f86a6" stroke="#175a73" stroke-width="0.75"/>
<circle cx="158.8" cy="206.2" r="0.55" fill="#9fd3e6"/>
<rect x="160.35" y="204.55" width="3.3" height="3.3" fill="#2f86a6" stroke="#175a73" stroke-width="0.75"/>
<circle cx="162" cy="206.2" r="0.55" fill="#9fd3e6"/>
<line x1="207.7" y1="134.6" x2="207.7" y2="206.7" stroke="#222" stroke-width="0.85"/>
<line x1="206.1" y1="206.7" x2="207.7" y2="206.7" stroke="#222" stroke-width="0.8"/>
<text x="204.7" y="208.65" font-size="5.6" text-anchor="end" fill="#2a2a2a" stroke="#2a2a2a" stroke-width="0.12">0</text>
<line x1="206.1" y1="188.7" x2="207.7" y2="188.7" stroke="#222" stroke-width="0.8"/>
<text x="204.7" y="190.65" font-size="5.6" text-anchor="end" fill="#2a2a2a" stroke="#2a2a2a" stroke-width="0.12">50</text>
<line x1="206.1" y1="170.7" x2="207.7" y2="170.7" stroke="#222" stroke-width="0.8"/>
<text x="204.7" y="172.65" font-size="5.6" text-anchor="end" fill="#2a2a2a" stroke="#2a2a2a" stroke-width="0.12">100</text>
<line x1="206.1" y1="152.8" x2="207.7" y2="152.8" stroke="#222" stroke-width="0.8"/>
<text x="204.7" y="154.75" font-size="5.6" text-anchor="end" fill="#2a2a2a" stroke="#2a2a2a" stroke-width="0.12">150</text>
<line x1="206.1" y1="134.8" x2="207.7" y2="134.8" stroke="#222" stroke-width="0.8"/>
<text x="204.7" y="136.75" font-size="5.6" text-anchor="end" fill="#2a2a2a" stroke="#2a2a2a" stroke-width="0.12">200</text>
<line x1="206.7" y1="197.7" x2="207.7" y2="197.7" stroke="#222" stroke-width="0.6"/>
<line x1="206.7" y1="179.7" x2="207.7" y2="179.7" stroke="#222" stroke-width="0.6"/>
<line x1="206.7" y1="161.7" x2="207.7" y2="161.7" stroke="#222" stroke-width="0.6"/>
<line x1="206.7" y1="143.8" x2="207.7" y2="143.8" stroke="#222" stroke-width="0.6"/>
<line x1="207.7" y1="206.7" x2="258.5" y2="206.7" stroke="#333" stroke-width="0.9"/>
<text transform="translate(189 168.8) rotate(-90)" font-size="5.9" font-weight="bold" text-anchor="middle" fill="#1a1a1a" stroke="#1a1a1a" stroke-width="0.12">Cytokine concentration (pg/mL)</text>
<text x="233.5" y="215" font-size="5.9" font-weight="bold" text-anchor="middle" fill="#333" stroke="#333" stroke-width="0.12">IL6</text>
<line x1="209.5" y1="200.5" x2="258.5" y2="200.5" stroke="#444" stroke-width="0.6" stroke-dasharray="0.6 1.2"/>
<polyline points="219.6,140.6 219.6,137 246.8,137 246.8,140.6" fill="none" stroke="#333" stroke-width="0.85"/>
<text x="233.3" y="132.6" font-size="6.3" text-anchor="middle" fill="#555" stroke="#555" stroke-width="0.16">ns</text>
<polyline points="219.3,155.3 219.3,151.4 231.6,151.4 231.6,155.3" fill="none" stroke="#333" stroke-width="0.85"/>
<polyline points="234.5,155.3 234.5,151.4 246.5,151.4 246.5,155.3" fill="none" stroke="#333" stroke-width="0.85"/>
<text x="225.5" y="147.5" font-size="6.3" text-anchor="middle" fill="#555" stroke="#555" stroke-width="0.16">ns</text>
<text x="240.5" y="147.5" font-size="6.3" text-anchor="middle" fill="#555" stroke="#555" stroke-width="0.16">ns</text>
<line x1="219.3" y1="186" x2="219.3" y2="202.4" stroke="#555" stroke-width="0.8"/>
<line x1="217.6" y1="202.4" x2="221" y2="202.4" stroke="#555" stroke-width="0.8"/>
<line x1="214.6" y1="195.2" x2="224.8" y2="195.2" stroke="#666" stroke-width="0.8"/>
<polygon points="219.3,184.2 217.5,187.53 221.11,187.53" fill="#a8a8a8" stroke="#505050" stroke-width="0.6"/>
<polygon points="219.3,189.6 217.5,192.93 221.11,192.93" fill="#a8a8a8" stroke="#505050" stroke-width="0.6"/>
<polygon points="216.25,193.3 214.44,196.62 218.06,196.62" fill="#a8a8a8" stroke="#505050" stroke-width="0.6"/>
<polygon points="222.5,195.7 220.69,199.03 224.31,199.03" fill="#a8a8a8" stroke="#505050" stroke-width="0.6"/>
<polygon points="219.3,203.7 217.5,207.03 221.11,207.03" fill="#a8a8a8" stroke="#505050" stroke-width="0.6"/>
<line x1="227.3" y1="177.6" x2="238.8" y2="177.6" stroke="#f58220" stroke-width="0.9"/>
<circle cx="230" cy="159.9" r="1.85" fill="#f58220"/>
<circle cx="230" cy="159.9" r="0.55" fill="#fbb36b"/>
<circle cx="236.2" cy="162.5" r="1.85" fill="#f58220"/>
<circle cx="236.2" cy="162.5" r="0.55" fill="#fbb36b"/>
<circle cx="230" cy="183.5" r="1.85" fill="#f58220"/>
<circle cx="230" cy="183.5" r="0.55" fill="#fbb36b"/>
<circle cx="236.2" cy="186.2" r="1.85" fill="#f58220"/>
<circle cx="236.2" cy="186.2" r="0.55" fill="#fbb36b"/>
<circle cx="233.1" cy="195.2" r="1.85" fill="#f58220"/>
<circle cx="233.1" cy="195.2" r="0.55" fill="#fbb36b"/>
<line x1="246.7" y1="166.8" x2="246.7" y2="185.6" stroke="#1b6f8c" stroke-width="0.9"/>
<line x1="241" y1="178.2" x2="252.3" y2="178.2" stroke="#4fb3d4" stroke-width="0.9"/>
<rect x="245.05" y="165.15" width="3.3" height="3.3" fill="#2f86a6" stroke="#175a73" stroke-width="0.75"/>
<circle cx="246.7" cy="166.8" r="0.55" fill="#9fd3e6"/>
<rect x="245.05" y="168.55" width="3.3" height="3.3" fill="#2f86a6" stroke="#175a73" stroke-width="0.75"/>
<circle cx="246.7" cy="170.2" r="0.55" fill="#9fd3e6"/>
<rect x="245.05" y="179.6" width="3.3" height="3.3" fill="#2f86a6" stroke="#175a73" stroke-width="0.75"/>
<circle cx="246.7" cy="181.25" r="0.55" fill="#9fd3e6"/>
<rect x="241.95" y="183.95" width="3.3" height="3.3" fill="#2f86a6" stroke="#175a73" stroke-width="0.75"/>
<circle cx="243.6" cy="185.6" r="0.55" fill="#9fd3e6"/>
<rect x="245.05" y="183.95" width="3.3" height="3.3" fill="#2f86a6" stroke="#175a73" stroke-width="0.75"/>
<circle cx="246.7" cy="185.6" r="0.55" fill="#9fd3e6"/>
<rect x="248.15" y="183.95" width="3.3" height="3.3" fill="#2f86a6" stroke="#175a73" stroke-width="0.75"/>
<circle cx="249.8" cy="185.6" r="0.55" fill="#9fd3e6"/>
<line x1="295.4" y1="135.6" x2="295.4" y2="207.8" stroke="#222" stroke-width="0.85"/>
<line x1="293.8" y1="207.8" x2="295.4" y2="207.8" stroke="#222" stroke-width="0.8"/>
<text x="292.4" y="209.75" font-size="5.6" text-anchor="end" fill="#2a2a2a" stroke="#2a2a2a" stroke-width="0.12">0</text>
<line x1="293.8" y1="183.8" x2="295.4" y2="183.8" stroke="#222" stroke-width="0.8"/>
<text x="292.4" y="185.75" font-size="5.6" text-anchor="end" fill="#2a2a2a" stroke="#2a2a2a" stroke-width="0.12">20</text>
<line x1="293.8" y1="159.7" x2="295.4" y2="159.7" stroke="#222" stroke-width="0.8"/>
<text x="292.4" y="161.65" font-size="5.6" text-anchor="end" fill="#2a2a2a" stroke="#2a2a2a" stroke-width="0.12">40</text>
<line x1="293.8" y1="135.7" x2="295.4" y2="135.7" stroke="#222" stroke-width="0.8"/>
<text x="292.4" y="137.65" font-size="5.6" text-anchor="end" fill="#2a2a2a" stroke="#2a2a2a" stroke-width="0.12">60</text>
<line x1="294.4" y1="195.8" x2="295.4" y2="195.8" stroke="#222" stroke-width="0.6"/>
<line x1="294.4" y1="171.7" x2="295.4" y2="171.7" stroke="#222" stroke-width="0.6"/>
<line x1="294.4" y1="147.7" x2="295.4" y2="147.7" stroke="#222" stroke-width="0.6"/>
<line x1="295.4" y1="207.8" x2="345.2" y2="207.8" stroke="#333" stroke-width="0.9"/>
<text transform="translate(278.8 168.8) rotate(-90)" font-size="5.9" font-weight="bold" text-anchor="middle" fill="#1a1a1a" stroke="#1a1a1a" stroke-width="0.12">Cytokine concentration (pg/mL)</text>
<text x="319.8" y="215" font-size="5.9" font-weight="bold" text-anchor="middle" fill="#333" stroke="#333" stroke-width="0.12">TNF&#945;</text>
<line x1="297" y1="205" x2="345.2" y2="205" stroke="#444" stroke-width="0.6" stroke-dasharray="0.6 1.2"/>
<polyline points="305.9,170.3 305.9,166.6 333.4,166.6 333.4,170.3" fill="none" stroke="#333" stroke-width="0.85"/>
<text x="319.8" y="162.6" font-size="6.3" text-anchor="middle" fill="#555" stroke="#555" stroke-width="0.16">ns</text>
<polyline points="305.9,180.3 305.9,176.8 318.5,176.8 318.5,180.3" fill="none" stroke="#333" stroke-width="0.85"/>
<polyline points="321,180.3 321,176.8 333.4,176.8 333.4,180.3" fill="none" stroke="#333" stroke-width="0.85"/>
<text x="312.3" y="172.8" font-size="6.3" text-anchor="middle" fill="#555" stroke="#555" stroke-width="0.16">ns</text>
<text x="327.5" y="172.8" font-size="6.3" text-anchor="middle" fill="#555" stroke="#555" stroke-width="0.16">ns</text>
<line x1="301" y1="195.5" x2="311" y2="195.5" stroke="#777" stroke-width="0.8"/>
<polygon points="309.6,189.2 307.99,192.18 311.22,192.18" fill="#a8a8a8" stroke="#505050" stroke-width="0.6"/>
<polygon points="303,194.3 301.38,197.28 304.62,197.28" fill="#a8a8a8" stroke="#505050" stroke-width="0.6"/>
<polygon points="306,193.3 304.38,196.28 307.62,196.28" fill="#a8a8a8" stroke="#505050" stroke-width="0.6"/>
<polygon points="308.6,194.8 306.99,197.78 310.22,197.78" fill="#a8a8a8" stroke="#505050" stroke-width="0.6"/>
<polygon points="302.4,196.3 300.78,199.28 304.01,199.28" fill="#a8a8a8" stroke="#505050" stroke-width="0.6"/>
<polygon points="305.4,196.5 303.78,199.47 307.01,199.47" fill="#a8a8a8" stroke="#505050" stroke-width="0.6"/>
<line x1="314.2" y1="190.5" x2="324.7" y2="190.5" stroke="#f58220" stroke-width="0.9"/>
<circle cx="319.8" cy="183.9" r="1.75" fill="#f58220"/>
<circle cx="319.8" cy="183.9" r="0.55" fill="#fbb36b"/>
<circle cx="317" cy="193.6" r="1.75" fill="#f58220"/>
<circle cx="317" cy="193.6" r="0.55" fill="#fbb36b"/>
<circle cx="320" cy="191.6" r="1.75" fill="#f58220"/>
<circle cx="320" cy="191.6" r="0.55" fill="#fbb36b"/>
<circle cx="322.8" cy="191" r="1.75" fill="#f58220"/>
<circle cx="322.8" cy="191" r="0.55" fill="#fbb36b"/>
<circle cx="324.6" cy="190.6" r="1.75" fill="#f58220"/>
<circle cx="324.6" cy="190.6" r="0.55" fill="#fbb36b"/>
<circle cx="318.2" cy="191" r="1.75" fill="#f58220"/>
<circle cx="318.2" cy="191" r="0.55" fill="#fbb36b"/>
<line x1="330.3" y1="184.5" x2="330.3" y2="194.2" stroke="#1b6f8c" stroke-width="0.9"/>
<line x1="327" y1="189.5" x2="339" y2="189.5" stroke="#4fb3d4" stroke-width="0.9"/>
<rect x="328.75" y="182.95" width="3.1" height="3.1" fill="#2f86a6" stroke="#175a73" stroke-width="0.75"/>
<circle cx="330.3" cy="184.5" r="0.55" fill="#9fd3e6"/>
<rect x="334.95" y="182.95" width="3.1" height="3.1" fill="#2f86a6" stroke="#175a73" stroke-width="0.75"/>
<circle cx="336.5" cy="184.5" r="0.55" fill="#9fd3e6"/>
<rect x="328.75" y="188.95" width="3.1" height="3.1" fill="#2f86a6" stroke="#175a73" stroke-width="0.75"/>
<circle cx="330.3" cy="190.5" r="0.55" fill="#9fd3e6"/>
<rect x="328.75" y="192.65" width="3.1" height="3.1" fill="#2f86a6" stroke="#175a73" stroke-width="0.75"/>
<circle cx="330.3" cy="194.2" r="0.55" fill="#9fd3e6"/>
<rect x="334.95" y="191.05" width="3.1" height="3.1" fill="#2f86a6" stroke="#175a73" stroke-width="0.75"/>
<circle cx="336.5" cy="192.6" r="0.55" fill="#9fd3e6"/>
<rect x="328.75" y="186.05" width="3.1" height="3.1" fill="#2f86a6" stroke="#175a73" stroke-width="0.75"/>
<circle cx="330.3" cy="187.6" r="0.55" fill="#9fd3e6"/>
<polygon points="306.4,136 304.88,138.8 307.92,138.8" fill="#a8a8a8" stroke="#505050" stroke-width="0.6"/>
<text x="312.3" y="139" font-size="5.9" fill="#333" stroke="#333" stroke-width="0.16">Vehicle</text>
<circle cx="306.4" cy="145.5" r="1.6" fill="#f58220"/>
<circle cx="306.4" cy="145.5" r="0.55" fill="#fbb36b"/>
<text x="312.3" y="147.3" font-size="5.9" fill="#333" stroke="#333" stroke-width="0.16">Atezolizumab</text>
<rect x="304.95" y="151.85" width="2.9" height="2.9" fill="#2f86a6" stroke="#175a73" stroke-width="0.75"/>
<circle cx="306.4" cy="153.3" r="0.55" fill="#9fd3e6"/>
<text x="312.3" y="155.1" font-size="5.9" fill="#333" stroke="#333" stroke-width="0.16">NI-3201</text>
<text x="376.4" y="131.8" font-size="14" font-weight="bold" fill="#000">E</text>
<text x="449.1" y="131" font-size="5.9" font-weight="bold" text-anchor="middle" fill="#1a1a1a" stroke="#1a1a1a" stroke-width="0.12">Average tumor volume</text>
<line x1="414.6" y1="138.8" x2="414.6" y2="205.2" stroke="#1a1a1a" stroke-width="0.9"/>
<line x1="412.8" y1="205.2" x2="414.6" y2="205.2" stroke="#1a1a1a" stroke-width="0.9"/>
<text x="410.8" y="207.32" font-size="5.9" text-anchor="end" fill="#1a1a1a" stroke="#1a1a1a" stroke-width="0.16">0</text>
<line x1="412.8" y1="188.6" x2="414.6" y2="188.6" stroke="#1a1a1a" stroke-width="0.9"/>
<text x="410.8" y="190.72" font-size="5.9" text-anchor="end" fill="#1a1a1a" stroke="#1a1a1a" stroke-width="0.16">500</text>
<line x1="412.8" y1="172" x2="414.6" y2="172" stroke="#1a1a1a" stroke-width="0.9"/>
<text x="410.8" y="174.12" font-size="5.9" text-anchor="end" fill="#1a1a1a" stroke="#1a1a1a" stroke-width="0.16">1,000</text>
<line x1="412.8" y1="155.4" x2="414.6" y2="155.4" stroke="#1a1a1a" stroke-width="0.9"/>
<text x="410.8" y="157.52" font-size="5.9" text-anchor="end" fill="#1a1a1a" stroke="#1a1a1a" stroke-width="0.16">1,500</text>
<line x1="412.8" y1="138.8" x2="414.6" y2="138.8" stroke="#1a1a1a" stroke-width="0.9"/>
<text x="410.8" y="140.92" font-size="5.9" text-anchor="end" fill="#1a1a1a" stroke="#1a1a1a" stroke-width="0.16">2,000</text>
<line x1="413.25" y1="201.88" x2="414.6" y2="201.88" stroke="#1a1a1a" stroke-width="0.81"/>
<line x1="413.25" y1="198.56" x2="414.6" y2="198.56" stroke="#1a1a1a" stroke-width="0.81"/>
<line x1="413.25" y1="195.24" x2="414.6" y2="195.24" stroke="#1a1a1a" stroke-width="0.81"/>
<line x1="413.25" y1="191.92" x2="414.6" y2="191.92" stroke="#1a1a1a" stroke-width="0.81"/>
<line x1="413.25" y1="188.6" x2="414.6" y2="188.6" stroke="#1a1a1a" stroke-width="0.81"/>
<line x1="413.25" y1="185.28" x2="414.6" y2="185.28" stroke="#1a1a1a" stroke-width="0.81"/>
<line x1="413.25" y1="181.96" x2="414.6" y2="181.96" stroke="#1a1a1a" stroke-width="0.81"/>
<line x1="413.25" y1="178.64" x2="414.6" y2="178.64" stroke="#1a1a1a" stroke-width="0.81"/>
<line x1="413.25" y1="175.32" x2="414.6" y2="175.32" stroke="#1a1a1a" stroke-width="0.81"/>
<line x1="413.25" y1="172" x2="414.6" y2="172" stroke="#1a1a1a" stroke-width="0.81"/>
<line x1="413.25" y1="168.68" x2="414.6" y2="168.68" stroke="#1a1a1a" stroke-width="0.81"/>
<line x1="413.25" y1="165.36" x2="414.6" y2="165.36" stroke="#1a1a1a" stroke-width="0.81"/>
<line x1="413.25" y1="162.04" x2="414.6" y2="162.04" stroke="#1a1a1a" stroke-width="0.81"/>
<line x1="413.25" y1="158.72" x2="414.6" y2="158.72" stroke="#1a1a1a" stroke-width="0.81"/>
<line x1="413.25" y1="155.4" x2="414.6" y2="155.4" stroke="#1a1a1a" stroke-width="0.81"/>
<line x1="413.25" y1="152.08" x2="414.6" y2="152.08" stroke="#1a1a1a" stroke-width="0.81"/>
<line x1="413.25" y1="148.76" x2="414.6" y2="148.76" stroke="#1a1a1a" stroke-width="0.81"/>
<line x1="413.25" y1="145.44" x2="414.6" y2="145.44" stroke="#1a1a1a" stroke-width="0.81"/>
<line x1="413.25" y1="142.12" x2="414.6" y2="142.12" stroke="#1a1a1a" stroke-width="0.81"/>
<line x1="414.6" y1="205.2" x2="495" y2="205.2" stroke="#1a1a1a" stroke-width="0.9"/>
<line x1="414.6" y1="205.2" x2="414.6" y2="206.8" stroke="#1a1a1a" stroke-width="0.9"/>
<text x="414.6" y="212.3" font-size="5.9" text-anchor="middle" fill="#1a1a1a" stroke="#1a1a1a" stroke-width="0.16">0</text>
<line x1="424.84" y1="205.2" x2="424.84" y2="206.8" stroke="#1a1a1a" stroke-width="0.9"/>
<text x="424.84" y="212.3" font-size="5.9" text-anchor="middle" fill="#1a1a1a" stroke="#1a1a1a" stroke-width="0.16">7</text>
<line x1="435.08" y1="205.2" x2="435.08" y2="206.8" stroke="#1a1a1a" stroke-width="0.9"/>
<text x="435.08" y="212.3" font-size="5.9" text-anchor="middle" fill="#1a1a1a" stroke="#1a1a1a" stroke-width="0.16">14</text>
<line x1="445.32" y1="205.2" x2="445.32" y2="206.8" stroke="#1a1a1a" stroke-width="0.9"/>
<text x="445.32" y="212.3" font-size="5.9" text-anchor="middle" fill="#1a1a1a" stroke="#1a1a1a" stroke-width="0.16">21</text>
<line x1="455.56" y1="205.2" x2="455.56" y2="206.8" stroke="#1a1a1a" stroke-width="0.9"/>
<text x="455.56" y="212.3" font-size="5.9" text-anchor="middle" fill="#1a1a1a" stroke="#1a1a1a" stroke-width="0.16">28</text>
<line x1="465.81" y1="205.2" x2="465.81" y2="206.8" stroke="#1a1a1a" stroke-width="0.9"/>
<text x="465.81" y="212.3" font-size="5.9" text-anchor="middle" fill="#1a1a1a" stroke="#1a1a1a" stroke-width="0.16">35</text>
<line x1="476.05" y1="205.2" x2="476.05" y2="206.8" stroke="#1a1a1a" stroke-width="0.9"/>
<text x="476.05" y="212.3" font-size="5.9" text-anchor="middle" fill="#1a1a1a" stroke="#1a1a1a" stroke-width="0.16">42</text>
<line x1="486.29" y1="205.2" x2="486.29" y2="206.8" stroke="#1a1a1a" stroke-width="0.9"/>
<text x="486.29" y="212.3" font-size="5.9" text-anchor="middle" fill="#1a1a1a" stroke="#1a1a1a" stroke-width="0.16">49</text>
<line x1="416.06" y1="205.2" x2="416.06" y2="206.4" stroke="#1a1a1a" stroke-width="0.81"/>
<line x1="417.53" y1="205.2" x2="417.53" y2="206.4" stroke="#1a1a1a" stroke-width="0.81"/>
<line x1="418.99" y1="205.2" x2="418.99" y2="206.4" stroke="#1a1a1a" stroke-width="0.81"/>
<line x1="420.45" y1="205.2" x2="420.45" y2="206.4" stroke="#1a1a1a" stroke-width="0.81"/>
<line x1="421.92" y1="205.2" x2="421.92" y2="206.4" stroke="#1a1a1a" stroke-width="0.81"/>
<line x1="423.38" y1="205.2" x2="423.38" y2="206.4" stroke="#1a1a1a" stroke-width="0.81"/>
<line x1="424.84" y1="205.2" x2="424.84" y2="206.4" stroke="#1a1a1a" stroke-width="0.81"/>
<line x1="426.3" y1="205.2" x2="426.3" y2="206.4" stroke="#1a1a1a" stroke-width="0.81"/>
<line x1="427.77" y1="205.2" x2="427.77" y2="206.4" stroke="#1a1a1a" stroke-width="0.81"/>
<line x1="429.23" y1="205.2" x2="429.23" y2="206.4" stroke="#1a1a1a" stroke-width="0.81"/>
<line x1="430.69" y1="205.2" x2="430.69" y2="206.4" stroke="#1a1a1a" stroke-width="0.81"/>
<line x1="432.16" y1="205.2" x2="432.16" y2="206.4" stroke="#1a1a1a" stroke-width="0.81"/>
<line x1="433.62" y1="205.2" x2="433.62" y2="206.4" stroke="#1a1a1a" stroke-width="0.81"/>
<line x1="435.08" y1="205.2" x2="435.08" y2="206.4" stroke="#1a1a1a" stroke-width="0.81"/>
<line x1="436.55" y1="205.2" x2="436.55" y2="206.4" stroke="#1a1a1a" stroke-width="0.81"/>
<line x1="438.01" y1="205.2" x2="438.01" y2="206.4" stroke="#1a1a1a" stroke-width="0.81"/>
<line x1="439.47" y1="205.2" x2="439.47" y2="206.4" stroke="#1a1a1a" stroke-width="0.81"/>
<line x1="440.93" y1="205.2" x2="440.93" y2="206.4" stroke="#1a1a1a" stroke-width="0.81"/>
<line x1="442.4" y1="205.2" x2="442.4" y2="206.4" stroke="#1a1a1a" stroke-width="0.81"/>
<line x1="443.86" y1="205.2" x2="443.86" y2="206.4" stroke="#1a1a1a" stroke-width="0.81"/>
<line x1="445.32" y1="205.2" x2="445.32" y2="206.4" stroke="#1a1a1a" stroke-width="0.81"/>
<line x1="446.79" y1="205.2" x2="446.79" y2="206.4" stroke="#1a1a1a" stroke-width="0.81"/>
<line x1="448.25" y1="205.2" x2="448.25" y2="206.4" stroke="#1a1a1a" stroke-width="0.81"/>
<line x1="449.71" y1="205.2" x2="449.71" y2="206.4" stroke="#1a1a1a" stroke-width="0.81"/>
<line x1="451.18" y1="205.2" x2="451.18" y2="206.4" stroke="#1a1a1a" stroke-width="0.81"/>
<line x1="452.64" y1="205.2" x2="452.64" y2="206.4" stroke="#1a1a1a" stroke-width="0.81"/>
<line x1="454.1" y1="205.2" x2="454.1" y2="206.4" stroke="#1a1a1a" stroke-width="0.81"/>
<line x1="455.56" y1="205.2" x2="455.56" y2="206.4" stroke="#1a1a1a" stroke-width="0.81"/>
<line x1="457.03" y1="205.2" x2="457.03" y2="206.4" stroke="#1a1a1a" stroke-width="0.81"/>
<line x1="458.49" y1="205.2" x2="458.49" y2="206.4" stroke="#1a1a1a" stroke-width="0.81"/>
<line x1="459.95" y1="205.2" x2="459.95" y2="206.4" stroke="#1a1a1a" stroke-width="0.81"/>
<line x1="461.42" y1="205.2" x2="461.42" y2="206.4" stroke="#1a1a1a" stroke-width="0.81"/>
<line x1="462.88" y1="205.2" x2="462.88" y2="206.4" stroke="#1a1a1a" stroke-width="0.81"/>
<line x1="464.34" y1="205.2" x2="464.34" y2="206.4" stroke="#1a1a1a" stroke-width="0.81"/>
<line x1="465.81" y1="205.2" x2="465.81" y2="206.4" stroke="#1a1a1a" stroke-width="0.81"/>
<line x1="467.27" y1="205.2" x2="467.27" y2="206.4" stroke="#1a1a1a" stroke-width="0.81"/>
<line x1="468.73" y1="205.2" x2="468.73" y2="206.4" stroke="#1a1a1a" stroke-width="0.81"/>
<line x1="470.19" y1="205.2" x2="470.19" y2="206.4" stroke="#1a1a1a" stroke-width="0.81"/>
<line x1="471.66" y1="205.2" x2="471.66" y2="206.4" stroke="#1a1a1a" stroke-width="0.81"/>
<line x1="473.12" y1="205.2" x2="473.12" y2="206.4" stroke="#1a1a1a" stroke-width="0.81"/>
<line x1="474.58" y1="205.2" x2="474.58" y2="206.4" stroke="#1a1a1a" stroke-width="0.81"/>
<line x1="476.05" y1="205.2" x2="476.05" y2="206.4" stroke="#1a1a1a" stroke-width="0.81"/>
<line x1="477.51" y1="205.2" x2="477.51" y2="206.4" stroke="#1a1a1a" stroke-width="0.81"/>
<line x1="478.97" y1="205.2" x2="478.97" y2="206.4" stroke="#1a1a1a" stroke-width="0.81"/>
<line x1="480.44" y1="205.2" x2="480.44" y2="206.4" stroke="#1a1a1a" stroke-width="0.81"/>
<line x1="481.9" y1="205.2" x2="481.9" y2="206.4" stroke="#1a1a1a" stroke-width="0.81"/>
<line x1="483.36" y1="205.2" x2="483.36" y2="206.4" stroke="#1a1a1a" stroke-width="0.81"/>
<line x1="484.82" y1="205.2" x2="484.82" y2="206.4" stroke="#1a1a1a" stroke-width="0.81"/>
<line x1="486.29" y1="205.2" x2="486.29" y2="206.4" stroke="#1a1a1a" stroke-width="0.81"/>
<line x1="487.75" y1="205.2" x2="487.75" y2="206.4" stroke="#1a1a1a" stroke-width="0.81"/>
<line x1="489.21" y1="205.2" x2="489.21" y2="206.4" stroke="#1a1a1a" stroke-width="0.81"/>
<line x1="490.68" y1="205.2" x2="490.68" y2="206.4" stroke="#1a1a1a" stroke-width="0.81"/>
<line x1="492.14" y1="205.2" x2="492.14" y2="206.4" stroke="#1a1a1a" stroke-width="0.81"/>
<line x1="493.6" y1="205.2" x2="493.6" y2="206.4" stroke="#1a1a1a" stroke-width="0.81"/>
<text x="456" y="221" font-size="5.9" text-anchor="middle" fill="#333" stroke="#333" stroke-width="0.16">Days after engraftment</text>
<text transform="translate(391.8 173) rotate(-90)" font-size="5.9" text-anchor="middle" fill="#333" stroke="#333" stroke-width="0.16">Tumor volume (mm<tspan font-size="3.8" dy="-2">3</tspan><tspan dy="2">)</tspan></text>
<polyline points="421.92,204.87 424.84,204.2 432.16,201.88 438.01,197.9 442.4,192.58 445.32,181.96 448.25,177.64 452.64,164.36" fill="none" stroke="#f58220" stroke-width="1"/>
<line x1="438.01" y1="199.89" x2="438.01" y2="195.9" stroke="#f58220" stroke-width="0.7"/>
<line x1="437.01" y1="199.89" x2="439.01" y2="199.89" stroke="#f58220" stroke-width="0.7"/>
<line x1="437.01" y1="195.9" x2="439.01" y2="195.9" stroke="#f58220" stroke-width="0.7"/>
<line x1="442.4" y1="195.9" x2="442.4" y2="189.26" stroke="#f58220" stroke-width="0.7"/>
<line x1="441.4" y1="195.9" x2="443.4" y2="195.9" stroke="#f58220" stroke-width="0.7"/>
<line x1="441.4" y1="189.26" x2="443.4" y2="189.26" stroke="#f58220" stroke-width="0.7"/>
<line x1="445.32" y1="186.94" x2="445.32" y2="176.98" stroke="#f58220" stroke-width="0.7"/>
<line x1="444.32" y1="186.94" x2="446.32" y2="186.94" stroke="#f58220" stroke-width="0.7"/>
<line x1="444.32" y1="176.98" x2="446.32" y2="176.98" stroke="#f58220" stroke-width="0.7"/>
<line x1="448.25" y1="183.62" x2="448.25" y2="171.67" stroke="#f58220" stroke-width="0.7"/>
<line x1="447.25" y1="183.62" x2="449.25" y2="183.62" stroke="#f58220" stroke-width="0.7"/>
<line x1="447.25" y1="171.67" x2="449.25" y2="171.67" stroke="#f58220" stroke-width="0.7"/>
<line x1="452.64" y1="173" x2="452.64" y2="155.73" stroke="#f58220" stroke-width="0.7"/>
<line x1="451.64" y1="173" x2="453.64" y2="173" stroke="#f58220" stroke-width="0.7"/>
<line x1="451.64" y1="155.73" x2="453.64" y2="155.73" stroke="#f58220" stroke-width="0.7"/>
<circle cx="421.92" cy="204.87" r="0.9" fill="#f58220"/>
<circle cx="424.84" cy="204.2" r="0.9" fill="#f58220"/>
<circle cx="432.16" cy="201.88" r="0.9" fill="#f58220"/>
<circle cx="438.01" cy="197.9" r="0.9" fill="#f58220"/>
<circle cx="442.4" cy="192.58" r="0.9" fill="#f58220"/>
<circle cx="445.32" cy="181.96" r="0.9" fill="#f58220"/>
<circle cx="448.25" cy="177.64" r="0.9" fill="#f58220"/>
<circle cx="452.64" cy="164.36" r="0.9" fill="#f58220"/>
<polyline points="414.6,204.93 420.45,204.93 426.3,204.93 432.16,204.93 438.01,204.93 443.86,204.93 449.71,204.93 455.56,204.93 461.42,204.93 467.27,204.93 473.12,204.93 478.97,204.93 484.82,204.93 490.68,204.93 496.53,204.93" fill="none" stroke="#1f93b6" stroke-width="1"/>
<circle cx="414.6" cy="204.93" r="0.9" fill="#1f93b6"/>
<circle cx="420.45" cy="204.93" r="0.9" fill="#1f93b6"/>
<circle cx="426.3" cy="204.93" r="0.9" fill="#1f93b6"/>
<circle cx="432.16" cy="204.93" r="0.9" fill="#1f93b6"/>
<circle cx="438.01" cy="204.93" r="0.9" fill="#1f93b6"/>
<circle cx="443.86" cy="204.93" r="0.9" fill="#1f93b6"/>
<circle cx="449.71" cy="204.93" r="0.9" fill="#1f93b6"/>
<circle cx="455.56" cy="204.93" r="0.9" fill="#1f93b6"/>
<circle cx="461.42" cy="204.93" r="0.9" fill="#1f93b6"/>
<circle cx="467.27" cy="204.93" r="0.9" fill="#1f93b6"/>
<circle cx="473.12" cy="204.93" r="0.9" fill="#1f93b6"/>
<circle cx="478.97" cy="204.93" r="0.9" fill="#1f93b6"/>
<circle cx="484.82" cy="204.93" r="0.9" fill="#1f93b6"/>
<circle cx="490.68" cy="204.93" r="0.9" fill="#1f93b6"/>
<circle cx="496.53" cy="204.93" r="0.9" fill="#1f93b6"/>
<line x1="420.4" y1="141.3" x2="427" y2="141.3" stroke="#1f93b6" stroke-width="1"/>
<circle cx="423.7" cy="141.3" r="0.9" fill="#1f93b6"/>
<text x="431" y="143.4" font-size="5.9" fill="#333" stroke="#333" stroke-width="0.16">Rechallenged (<tspan font-style="italic">n</tspan> = 8)</text>
<line x1="420.4" y1="150.4" x2="427" y2="150.4" stroke="#f58220" stroke-width="1"/>
<circle cx="423.7" cy="150.4" r="0.9" fill="#f58220"/>
<text x="431" y="152.5" font-size="5.9" fill="#333" stroke="#333" stroke-width="0.16">Naive (<tspan font-style="italic">n</tspan> = 8)</text>
<text x="5.8" y="241" font-size="14" font-weight="bold" fill="#000">F</text>
<text x="11" y="252.6" font-size="5.92" font-weight="bold" fill="#1a1a1a" stroke="#1a1a1a" stroke-width="0.12">huCD28-transgenic mice</text>
<g transform="translate(0.3 225.8) scale(1)">
<path d="M10.6 38.9 C10.9 40.6 12.6 40.9 14.6 40.0 C17.4 38.7 19.3 35.2 22.0 34.4 C25.0 33.6 27.8 34.8 30.0 38.4" fill="none" stroke="#1a1a1a" stroke-width="1.35" stroke-linecap="round"/>
<path d="M14.8 39.7 C17.4 38.5 19.3 35.1 22.0 34.5 C24.8 33.8 27.0 34.6 28.6 36.2" fill="none" stroke="#d4a872" stroke-width="0.6" stroke-linecap="round"/>
<path d="M29.7 38.0 C24.2 38.0 20.7 42.0 20.5 47.0 C19.3 48.8 19.0 51.8 20.6 53.6 C22.6 56.2 26.0 60.4 29.7 61.4 C33.4 60.4 36.8 56.2 38.8 53.6 C40.4 51.8 40.1 48.8 38.9 47.0 C38.7 42.0 35.2 38.0 29.7 38.0 Z" fill="#161616"/>
<ellipse cx="23.7" cy="51.7" rx="3.8" ry="2.7" fill="#f2cd95"/>
<path d="M20 51.0 Q23.7 47.3 27.4 51.0" fill="none" stroke="#6b4a2a" stroke-width="0.55"/>
<ellipse cx="35.9" cy="51.7" rx="3.8" ry="2.7" fill="#f2cd95"/>
<path d="M32.2 51.0 Q35.9 47.3 39.6 51.0" fill="none" stroke="#6b4a2a" stroke-width="0.55"/>
<circle cx="27.2" cy="56.7" r="0.75" fill="#6a6a6a"/>
<circle cx="32.3" cy="56.7" r="0.75" fill="#6a6a6a"/>
<ellipse cx="29.7" cy="60.5" rx="1.3" ry="0.95" fill="#f47fb8"/>
<line x1="26.1" y1="58.4" x2="21.8" y2="57.5" stroke="#555" stroke-width="0.7"/>
<line x1="26.1" y1="58.4" x2="21.8" y2="57.5" stroke="#f4f4f4" stroke-width="0.35"/>
<line x1="26.1" y1="59.1" x2="21.5" y2="60" stroke="#555" stroke-width="0.7"/>
<line x1="26.1" y1="59.1" x2="21.5" y2="60" stroke="#f4f4f4" stroke-width="0.35"/>
<line x1="26.1" y1="59.7" x2="22.3" y2="62.6" stroke="#555" stroke-width="0.7"/>
<line x1="26.1" y1="59.7" x2="22.3" y2="62.6" stroke="#f4f4f4" stroke-width="0.35"/>
<line x1="33.3" y1="58.4" x2="37.6" y2="57.5" stroke="#555" stroke-width="0.7"/>
<line x1="33.3" y1="58.4" x2="37.6" y2="57.5" stroke="#f4f4f4" stroke-width="0.35"/>
<line x1="33.3" y1="59.1" x2="37.9" y2="60" stroke="#555" stroke-width="0.7"/>
<line x1="33.3" y1="59.1" x2="37.9" y2="60" stroke="#f4f4f4" stroke-width="0.35"/>
<line x1="33.3" y1="59.7" x2="37.1" y2="62.6" stroke="#555" stroke-width="0.7"/>
<line x1="33.3" y1="59.7" x2="37.1" y2="62.6" stroke="#f4f4f4" stroke-width="0.35"/>
</g>
<text x="54.8" y="267.8" font-size="5.8" font-weight="bold" fill="#1a1a1a" stroke="#1a1a1a" stroke-width="0.12">Day 0</text>
<polygon points="61.1,272.9 164.3,272.9 164.3,268 179.7,277.9 164.3,287.8 164.3,282.9 61.1,282.9" fill="#c9c3c0"/>
<polygon points="60.8,272 164,272 164,267.1 179.4,277 164,286.9 164,282 60.8,282" fill="#287d8f"/>
<line x1="61.5" y1="287.24" x2="61.5" y2="294.8" stroke="#444" stroke-width="0.85"/>
<polygon points="61.5,285 59.75,288.2 63.25,288.2" fill="#111"/>
<line x1="103.8" y1="286.84" x2="103.8" y2="297" stroke="#7db3bf" stroke-width="0.85"/>
<polygon points="103.8,284.6 102.05,287.8 105.55,287.8" fill="#1f7486"/>
<line x1="130.4" y1="286.84" x2="130.4" y2="297" stroke="#7db3bf" stroke-width="0.85"/>
<polygon points="130.4,284.6 128.65,287.8 132.15,287.8" fill="#1f7486"/>
<line x1="157.3" y1="286.84" x2="157.3" y2="297" stroke="#7db3bf" stroke-width="0.85"/>
<polygon points="157.3,284.6 155.55,287.8 159.05,287.8" fill="#1f7486"/>
<text x="60.2" y="303" font-size="6" font-weight="bold" text-anchor="middle" fill="#1a1a1a" stroke="#1a1a1a" stroke-width="0.12">huCEA-MC38</text>
<text x="60.2" y="310.2" font-size="6" font-weight="bold" text-anchor="middle" fill="#1a1a1a" stroke="#1a1a1a" stroke-width="0.12">(subcutaneously)</text>
<text x="132.4" y="303.8" font-size="5.85" text-anchor="middle" fill="#3a3a3a" stroke="#3a3a3a" stroke-width="0.16">Treatment (3X):</text>
<text x="132.2" y="311.4" font-size="5.85" text-anchor="middle" fill="#3a3a3a" stroke="#3a3a3a" stroke-width="0.16">early (D1) vs. &gt;50 mm<tspan font-size="3.6" dy="-2">3</tspan><tspan dy="2"> tumors</tspan></text>
<text x="199.1" y="241.1" font-size="14" font-weight="bold" fill="#000">G</text>
<text x="253" y="246.6" font-size="5.9" font-weight="bold" text-anchor="middle" fill="#1a1a1a" stroke="#1a1a1a" stroke-width="0.12">Survival probability</text>
<line x1="218.8" y1="253.8" x2="218.8" y2="324" stroke="#1a1a1a" stroke-width="0.8"/>
<line x1="217.2" y1="324" x2="218.8" y2="324" stroke="#1a1a1a" stroke-width="0.8"/>
<text x="216.2" y="326.1" font-size="5.9" text-anchor="end" fill="#333" stroke="#333" stroke-width="0.16">0</text>
<line x1="217.2" y1="309.96" x2="218.8" y2="309.96" stroke="#1a1a1a" stroke-width="0.8"/>
<text x="216.2" y="312.06" font-size="5.9" text-anchor="end" fill="#333" stroke="#333" stroke-width="0.16">20</text>
<line x1="217.2" y1="295.92" x2="218.8" y2="295.92" stroke="#1a1a1a" stroke-width="0.8"/>
<text x="216.2" y="298.02" font-size="5.9" text-anchor="end" fill="#333" stroke="#333" stroke-width="0.16">40</text>
<line x1="217.2" y1="281.88" x2="218.8" y2="281.88" stroke="#1a1a1a" stroke-width="0.8"/>
<text x="216.2" y="283.98" font-size="5.9" text-anchor="end" fill="#333" stroke="#333" stroke-width="0.16">60</text>
<line x1="217.2" y1="267.84" x2="218.8" y2="267.84" stroke="#1a1a1a" stroke-width="0.8"/>
<text x="216.2" y="269.94" font-size="5.9" text-anchor="end" fill="#333" stroke="#333" stroke-width="0.16">80</text>
<line x1="217.2" y1="253.8" x2="218.8" y2="253.8" stroke="#1a1a1a" stroke-width="0.8"/>
<text x="216.2" y="255.9" font-size="5.9" text-anchor="end" fill="#333" stroke="#333" stroke-width="0.16">100</text>
<line x1="217.8" y1="316.98" x2="218.8" y2="316.98" stroke="#1a1a1a" stroke-width="0.6"/>
<line x1="217.8" y1="302.94" x2="218.8" y2="302.94" stroke="#1a1a1a" stroke-width="0.6"/>
<line x1="217.8" y1="288.9" x2="218.8" y2="288.9" stroke="#1a1a1a" stroke-width="0.6"/>
<line x1="217.8" y1="274.86" x2="218.8" y2="274.86" stroke="#1a1a1a" stroke-width="0.6"/>
<line x1="217.8" y1="260.82" x2="218.8" y2="260.82" stroke="#1a1a1a" stroke-width="0.6"/>
<line x1="218.8" y1="324" x2="223" y2="324" stroke="#1a1a1a" stroke-width="0.8"/>
<line x1="226.5" y1="324" x2="289.3" y2="324" stroke="#1a1a1a" stroke-width="0.8"/>
<line x1="221.4" y1="326" x2="224" y2="322.2" stroke="#1a1a1a" stroke-width="0.9"/>
<line x1="226.4" y1="326" x2="229" y2="322.2" stroke="#1a1a1a" stroke-width="0.9"/>
<line x1="229.7" y1="324" x2="229.7" y2="325.1" stroke="#1a1a1a" stroke-width="0.6"/>
<line x1="231.9" y1="324" x2="231.9" y2="325.1" stroke="#1a1a1a" stroke-width="0.6"/>
<line x1="234.1" y1="324" x2="234.1" y2="325.1" stroke="#1a1a1a" stroke-width="0.6"/>
<line x1="236.3" y1="324" x2="236.3" y2="325.1" stroke="#1a1a1a" stroke-width="0.6"/>
<line x1="238.5" y1="324" x2="238.5" y2="325.1" stroke="#1a1a1a" stroke-width="0.6"/>
<line x1="240.7" y1="324" x2="240.7" y2="325.1" stroke="#1a1a1a" stroke-width="0.6"/>
<line x1="242.9" y1="324" x2="242.9" y2="325.1" stroke="#1a1a1a" stroke-width="0.6"/>
<line x1="245.1" y1="324" x2="245.1" y2="325.1" stroke="#1a1a1a" stroke-width="0.6"/>
<line x1="247.3" y1="324" x2="247.3" y2="325.1" stroke="#1a1a1a" stroke-width="0.6"/>
<line x1="249.5" y1="324" x2="249.5" y2="325.1" stroke="#1a1a1a" stroke-width="0.6"/>
<line x1="251.7" y1="324" x2="251.7" y2="325.1" stroke="#1a1a1a" stroke-width="0.6"/>
<line x1="253.9" y1="324" x2="253.9" y2="325.1" stroke="#1a1a1a" stroke-width="0.6"/>
<line x1="256.1" y1="324" x2="256.1" y2="325.1" stroke="#1a1a1a" stroke-width="0.6"/>
<line x1="258.3" y1="324" x2="258.3" y2="325.1" stroke="#1a1a1a" stroke-width="0.6"/>
<line x1="260.5" y1="324" x2="260.5" y2="325.1" stroke="#1a1a1a" stroke-width="0.6"/>
<line x1="262.7" y1="324" x2="262.7" y2="325.1" stroke="#1a1a1a" stroke-width="0.6"/>
<line x1="264.9" y1="324" x2="264.9" y2="325.1" stroke="#1a1a1a" stroke-width="0.6"/>
<line x1="267.1" y1="324" x2="267.1" y2="325.1" stroke="#1a1a1a" stroke-width="0.6"/>
<line x1="269.3" y1="324" x2="269.3" y2="325.1" stroke="#1a1a1a" stroke-width="0.6"/>
<line x1="271.5" y1="324" x2="271.5" y2="325.1" stroke="#1a1a1a" stroke-width="0.6"/>
<line x1="273.7" y1="324" x2="273.7" y2="325.1" stroke="#1a1a1a" stroke-width="0.6"/>
<line x1="275.9" y1="324" x2="275.9" y2="325.1" stroke="#1a1a1a" stroke-width="0.6"/>
<line x1="278.1" y1="324" x2="278.1" y2="325.1" stroke="#1a1a1a" stroke-width="0.6"/>
<line x1="280.3" y1="324" x2="280.3" y2="325.1" stroke="#1a1a1a" stroke-width="0.6"/>
<line x1="282.5" y1="324" x2="282.5" y2="325.1" stroke="#1a1a1a" stroke-width="0.6"/>
<line x1="284.7" y1="324" x2="284.7" y2="325.1" stroke="#1a1a1a" stroke-width="0.6"/>
<line x1="286.9" y1="324" x2="286.9" y2="325.1" stroke="#1a1a1a" stroke-width="0.6"/>
<line x1="289.1" y1="324" x2="289.1" y2="325.1" stroke="#1a1a1a" stroke-width="0.6"/>
<line x1="227.5" y1="324" x2="227.5" y2="325.8" stroke="#1a1a1a" stroke-width="0.8"/>
<line x1="242.9" y1="324" x2="242.9" y2="325.8" stroke="#1a1a1a" stroke-width="0.8"/>
<line x1="258.3" y1="324" x2="258.3" y2="325.8" stroke="#1a1a1a" stroke-width="0.8"/>
<line x1="273.7" y1="324" x2="273.7" y2="325.8" stroke="#1a1a1a" stroke-width="0.8"/>
<line x1="289.1" y1="324" x2="289.1" y2="325.8" stroke="#1a1a1a" stroke-width="0.8"/>
<line x1="218.8" y1="324" x2="218.8" y2="325.8" stroke="#1a1a1a" stroke-width="0.8"/>
<text x="218.8" y="331.8" font-size="5.9" text-anchor="middle" fill="#333" stroke="#333" stroke-width="0.16">0</text>
<text x="227.5" y="331.8" font-size="5.9" text-anchor="middle" fill="#333" stroke="#333" stroke-width="0.16">14</text>
<text x="242.9" y="331.8" font-size="5.9" text-anchor="middle" fill="#333" stroke="#333" stroke-width="0.16">21</text>
<text x="258.3" y="331.8" font-size="5.9" text-anchor="middle" fill="#333" stroke="#333" stroke-width="0.16">28</text>
<text x="273.7" y="331.8" font-size="5.9" text-anchor="middle" fill="#333" stroke="#333" stroke-width="0.16">35</text>
<text x="289.1" y="331.8" font-size="5.9" text-anchor="middle" fill="#333" stroke="#333" stroke-width="0.16">42</text>
<text x="256" y="339.5" font-size="5.9" text-anchor="middle" fill="#333" stroke="#333" stroke-width="0.16">Days after engraftment</text>
<text transform="translate(202.6 289) rotate(-90)" font-size="5.9" text-anchor="middle" fill="#333" stroke="#333" stroke-width="0.16">Probability of survival (%)</text>
<polyline points="218.8,253.8 237.4,253.8 237.4,260.82 243.5,260.82 243.5,274.86 250.2,274.86 250.2,295.92 258.7,295.92 258.7,302.94 263,302.94 263,316.98 267.6,316.98 267.6,324 267.6,324" fill="none" stroke="#555" stroke-width="0.9"/>
<polyline points="237.4,253.8 250.2,253.8 250.2,259.42 258.7,259.42 258.7,271.35 263,271.35 263,276.97 267.9,276.97 267.9,283.28 274,283.28 274,288.9 282.9,288.9" fill="none" stroke="#d63fb5" stroke-width="1.1"/>
<polyline points="218.8,253.8 237.1,253.8 237.1,259.42 282.9,259.42 282.9,264.33 282.9,264.33" fill="none" stroke="#3aa6cc" stroke-width="1.1"/>
<polyline points="285.4,264 288.7,264 288.7,323.7 285.4,323.7" fill="none" stroke="#1a1a1a" stroke-width="0.8"/>
<line x1="285.6" y1="288.7" x2="288.7" y2="288.7" stroke="#1a1a1a" stroke-width="0.8"/>
<text x="293" y="277" font-size="5.2" text-anchor="middle" fill="#333" stroke="#333" stroke-width="0.16">ns</text>
<line x1="292.6" y1="305.4" x2="292.6" y2="307.2" stroke="#1a1a1a" stroke-width="0.75"/>
<line x1="293.38" y1="305.85" x2="291.82" y2="306.75" stroke="#1a1a1a" stroke-width="0.75"/>
<line x1="293.38" y1="306.75" x2="291.82" y2="305.85" stroke="#1a1a1a" stroke-width="0.75"/>
<line x1="294.6" y1="305.4" x2="294.6" y2="307.2" stroke="#1a1a1a" stroke-width="0.75"/>
<line x1="295.38" y1="305.85" x2="293.82" y2="306.75" stroke="#1a1a1a" stroke-width="0.75"/>
<line x1="295.38" y1="306.75" x2="293.82" y2="305.85" stroke="#1a1a1a" stroke-width="0.75"/>
<polyline points="290.8,264 297,264 297,323.7 290.8,323.7" fill="none" stroke="#1a1a1a" stroke-width="0.8"/>
<line x1="300.6" y1="291.1" x2="300.6" y2="292.9" stroke="#1a1a1a" stroke-width="0.75"/>
<line x1="301.38" y1="291.55" x2="299.82" y2="292.45" stroke="#1a1a1a" stroke-width="0.75"/>
<line x1="301.38" y1="292.45" x2="299.82" y2="291.55" stroke="#1a1a1a" stroke-width="0.75"/>
<line x1="302.7" y1="291.1" x2="302.7" y2="292.9" stroke="#1a1a1a" stroke-width="0.75"/>
<line x1="303.48" y1="291.55" x2="301.92" y2="292.45" stroke="#1a1a1a" stroke-width="0.75"/>
<line x1="303.48" y1="292.45" x2="301.92" y2="291.55" stroke="#1a1a1a" stroke-width="0.75"/>
<line x1="304.8" y1="291.1" x2="304.8" y2="292.9" stroke="#1a1a1a" stroke-width="0.75"/>
<line x1="305.58" y1="291.55" x2="304.02" y2="292.45" stroke="#1a1a1a" stroke-width="0.75"/>
<line x1="305.58" y1="292.45" x2="304.02" y2="291.55" stroke="#1a1a1a" stroke-width="0.75"/>
<line x1="310.4" y1="267.9" x2="317.7" y2="267.9" stroke="#555" stroke-width="1.1"/>
<line x1="310.4" y1="291.5" x2="317.7" y2="291.5" stroke="#d63fb5" stroke-width="1.1"/>
<line x1="310.4" y1="315.6" x2="317.7" y2="315.6" stroke="#3aa6cc" stroke-width="1.1"/>
<text x="322" y="266.6" font-size="5.9" fill="#333" stroke="#333" stroke-width="0.16">Vehicle</text>
<text x="322" y="273.8" font-size="5.9" fill="#333" stroke="#333" stroke-width="0.16">(<tspan font-style="italic">n</tspan> = 10)</text>
<text x="322" y="286.8" font-size="5.9" fill="#333" stroke="#333" stroke-width="0.16">NI-3201</text>
<text x="322" y="293.6" font-size="5.9" fill="#333" stroke="#333" stroke-width="0.16">early</text>
<text x="322" y="300.3" font-size="5.9" fill="#333" stroke="#333" stroke-width="0.16">(<tspan font-style="italic">n</tspan> = 12)</text>
<text x="322" y="313.8" font-size="5.9" fill="#333" stroke="#333" stroke-width="0.16">NI-3201</text>
<text x="322" y="320.5" font-size="5.9" fill="#333" stroke="#333" stroke-width="0.16">late</text>
<text x="322" y="327.2" font-size="5.9" fill="#333" stroke="#333" stroke-width="0.16">(<tspan font-style="italic">n</tspan> = 13)</text>
<text x="372.6" y="240.2" font-size="14" font-weight="bold" fill="#000">H</text>
<text x="448.3" y="244.8" font-size="5.9" font-weight="bold" text-anchor="middle" fill="#1a1a1a" stroke="#1a1a1a" stroke-width="0.12">Rechallenge with MC38-WT</text>
<line x1="405.8" y1="251.2" x2="405.8" y2="321.3" stroke="#1a1a1a" stroke-width="0.9"/>
<line x1="404" y1="321.3" x2="405.8" y2="321.3" stroke="#1a1a1a" stroke-width="0.9"/>
<text x="402" y="323.42" font-size="5.9" text-anchor="end" fill="#1a1a1a" stroke="#1a1a1a" stroke-width="0.16">0</text>
<line x1="404" y1="297.95" x2="405.8" y2="297.95" stroke="#1a1a1a" stroke-width="0.9"/>
<text x="402" y="300.07" font-size="5.9" text-anchor="end" fill="#1a1a1a" stroke="#1a1a1a" stroke-width="0.16">500</text>
<line x1="404" y1="274.6" x2="405.8" y2="274.6" stroke="#1a1a1a" stroke-width="0.9"/>
<text x="402" y="276.72" font-size="5.9" text-anchor="end" fill="#1a1a1a" stroke="#1a1a1a" stroke-width="0.16">1,000</text>
<line x1="404" y1="251.25" x2="405.8" y2="251.25" stroke="#1a1a1a" stroke-width="0.9"/>
<text x="402" y="253.37" font-size="5.9" text-anchor="end" fill="#1a1a1a" stroke="#1a1a1a" stroke-width="0.16">1,500</text>
<line x1="404.45" y1="316.63" x2="405.8" y2="316.63" stroke="#1a1a1a" stroke-width="0.81"/>
<line x1="404.45" y1="311.96" x2="405.8" y2="311.96" stroke="#1a1a1a" stroke-width="0.81"/>
<line x1="404.45" y1="307.29" x2="405.8" y2="307.29" stroke="#1a1a1a" stroke-width="0.81"/>
<line x1="404.45" y1="302.62" x2="405.8" y2="302.62" stroke="#1a1a1a" stroke-width="0.81"/>
<line x1="404.45" y1="297.95" x2="405.8" y2="297.95" stroke="#1a1a1a" stroke-width="0.81"/>
<line x1="404.45" y1="293.28" x2="405.8" y2="293.28" stroke="#1a1a1a" stroke-width="0.81"/>
<line x1="404.45" y1="288.61" x2="405.8" y2="288.61" stroke="#1a1a1a" stroke-width="0.81"/>
<line x1="404.45" y1="283.94" x2="405.8" y2="283.94" stroke="#1a1a1a" stroke-width="0.81"/>
<line x1="404.45" y1="279.27" x2="405.8" y2="279.27" stroke="#1a1a1a" stroke-width="0.81"/>
<line x1="404.45" y1="274.6" x2="405.8" y2="274.6" stroke="#1a1a1a" stroke-width="0.81"/>
<line x1="404.45" y1="269.93" x2="405.8" y2="269.93" stroke="#1a1a1a" stroke-width="0.81"/>
<line x1="404.45" y1="265.26" x2="405.8" y2="265.26" stroke="#1a1a1a" stroke-width="0.81"/>
<line x1="404.45" y1="260.59" x2="405.8" y2="260.59" stroke="#1a1a1a" stroke-width="0.81"/>
<line x1="404.45" y1="255.92" x2="405.8" y2="255.92" stroke="#1a1a1a" stroke-width="0.81"/>
<line x1="405.8" y1="321.3" x2="476.2" y2="321.3" stroke="#1a1a1a" stroke-width="0.9"/>
<line x1="405.8" y1="321.3" x2="405.8" y2="323.1" stroke="#1a1a1a" stroke-width="0.9"/>
<text x="405.8" y="328.9" font-size="5.9" text-anchor="middle" fill="#1a1a1a" stroke="#1a1a1a" stroke-width="0.16">0</text>
<line x1="419.88" y1="321.3" x2="419.88" y2="323.1" stroke="#1a1a1a" stroke-width="0.9"/>
<text x="419.88" y="328.9" font-size="5.9" text-anchor="middle" fill="#1a1a1a" stroke="#1a1a1a" stroke-width="0.16">7</text>
<line x1="433.97" y1="321.3" x2="433.97" y2="323.1" stroke="#1a1a1a" stroke-width="0.9"/>
<text x="433.97" y="328.9" font-size="5.9" text-anchor="middle" fill="#1a1a1a" stroke="#1a1a1a" stroke-width="0.16">14</text>
<line x1="448.05" y1="321.3" x2="448.05" y2="323.1" stroke="#1a1a1a" stroke-width="0.9"/>
<text x="448.05" y="328.9" font-size="5.9" text-anchor="middle" fill="#1a1a1a" stroke="#1a1a1a" stroke-width="0.16">21</text>
<line x1="462.14" y1="321.3" x2="462.14" y2="323.1" stroke="#1a1a1a" stroke-width="0.9"/>
<text x="462.14" y="328.9" font-size="5.9" text-anchor="middle" fill="#1a1a1a" stroke="#1a1a1a" stroke-width="0.16">28</text>
<line x1="476.22" y1="321.3" x2="476.22" y2="323.1" stroke="#1a1a1a" stroke-width="0.9"/>
<text x="476.22" y="328.9" font-size="5.9" text-anchor="middle" fill="#1a1a1a" stroke="#1a1a1a" stroke-width="0.16">35</text>
<text x="439.7" y="337.2" font-size="5.9" text-anchor="middle" fill="#333" stroke="#333" stroke-width="0.16">Days after rechallenge</text>
<text transform="translate(383.2 290) rotate(-90)" font-size="5.9" text-anchor="middle" fill="#333" stroke="#333" stroke-width="0.16">Tumor volume (mm<tspan font-size="3.8" dy="-2">3</tspan><tspan dy="2">)</tspan></text>
<polyline points="412.2,319.6 413.39,318.69 414.59,316.84 415.78,314.32 416.97,311.23 418.16,307.64 419.36,303.59 420.55,299.11 421.74,294.24 422.94,288.98 424.13,283.35 425.32,277.38 426.51,271.07 427.71,264.44 428.9,257.5 432.4,256.4 434.2,251.3" fill="none" stroke="#858585" stroke-width="0.85"/>
<polyline points="412.2,319.6 413.86,318.83 415.51,317.1 417.17,314.62 418.83,311.48 420.49,307.74 422.14,303.42 423.8,298.58 425.46,293.22 427.11,287.37 428.77,281.05 430.43,274.27 432.09,267.05 433.74,259.38 435.4,251.3" fill="none" stroke="#858585" stroke-width="0.85"/>
<polyline points="412.2,319.6 414.16,319.15 416.11,317.91 418.07,315.94 420.03,313.28 421.99,309.94 423.94,305.95 425.9,301.3 427.86,296.01 429.81,290.1 431.77,283.56 433.73,276.41 435.69,268.64 437.64,260.27 439.6,251.3" fill="none" stroke="#858585" stroke-width="0.85"/>
<polyline points="412.5,319.6 414.52,319.25 416.54,318.21 418.56,316.46 420.59,314.02 422.61,310.89 424.63,307.06 426.65,302.53 428.67,297.3 430.69,291.37 432.71,284.75 434.74,277.44 436.76,269.42 438.78,260.71 440.8,251.3" fill="none" stroke="#858585" stroke-width="0.85"/>
<polyline points="413,319.6 415.16,319.28 417.31,318.39 419.47,316.98 421.63,315.08 423.79,312.69 425.94,309.82 428.1,306.5 430.26,302.71 432.41,298.48 434.57,293.8 436.73,288.67 438.89,283.12 441.04,277.12 443.2,270.7" fill="none" stroke="#858585" stroke-width="0.85"/>
<polyline points="413,319.6 415.24,319.29 417.49,318.5 419.73,317.33 421.97,315.78 424.21,313.9 426.46,311.68 428.7,309.15 430.94,306.31 433.19,303.17 435.43,299.74 437.67,296.02 439.91,292.02 442.16,287.75 444.4,283.2" fill="none" stroke="#858585" stroke-width="0.85"/>
<polyline points="413,319.6 426.5,316.6 427.98,316.04 429.46,314.63 430.94,312.52 432.41,309.75 433.89,306.37 435.37,302.39 436.85,297.85 438.33,292.75 439.81,287.12 441.29,280.96 442.76,274.3 444.24,267.12 445.72,259.45 447.2,251.3" fill="none" stroke="#858585" stroke-width="0.85"/>
<polyline points="413,319.6 415.33,319.39 417.66,318.66 419.99,317.3 422.31,315.26 424.64,312.51 426.97,309.01 429.3,304.74 431.63,299.66 433.96,293.76 436.29,287.02 438.61,279.42 440.94,270.94 443.27,261.58 445.6,251.3" fill="none" stroke="#858585" stroke-width="0.85"/>
<polyline points="412.5,319.6 414.36,319.01 416.21,317.54 418.07,315.33 419.93,312.44 421.79,308.9 423.64,304.74 425.5,299.99 427.36,294.66 429.21,288.77 431.07,282.33 432.93,275.35 434.79,267.85 436.64,259.83 438.5,251.3" fill="none" stroke="#858585" stroke-width="0.85"/>
<polyline points="413,319.6 415.2,319.07 417.4,317.88 419.6,316.17 421.8,314 424,311.42 426.2,308.45 428.4,305.1 430.6,301.41 432.8,297.38 435,293.02 437.2,288.34 439.4,283.36 441.6,278.08 443.8,272.5" fill="none" stroke="#858585" stroke-width="0.85"/>
<polyline points="405.8,321 412,318.8 420,318.4 430,319.6 437,318.2 443,318.4 450,320.6 458,319.8 466.7,318.3" fill="none" stroke="#d63fb5" stroke-width="0.9"/>
<polyline points="405.8,321 412,319.6 418,318.4 425,318.9 432,318.1 440,317.6 447,318 452,321" fill="none" stroke="#3aa6cc" stroke-width="0.9"/>
<line x1="453.7" y1="269.4" x2="460.8" y2="269.4" stroke="#8e8e8e" stroke-width="1.1"/>
<line x1="453.7" y1="283.8" x2="460.8" y2="283.8" stroke="#d63fb5" stroke-width="1.3"/>
<line x1="453.7" y1="301.5" x2="460.8" y2="301.5" stroke="#3aa6cc" stroke-width="1.3"/>
<text x="465.6" y="271.4" font-size="5.9" fill="#333" stroke="#333" stroke-width="0.16">Naive mice (<tspan font-style="italic">n</tspan> = 10)</text>
<text x="465.6" y="282.4" font-size="5.9" fill="#333" stroke="#333" stroke-width="0.16">Rechallenged mice</text>
<text x="465.6" y="289.1" font-size="5.9" fill="#333" stroke="#333" stroke-width="0.16">NI-3201 early (<tspan font-style="italic">n</tspan> = 4)</text>
<text x="465.6" y="299.7" font-size="5.9" fill="#333" stroke="#333" stroke-width="0.16">Rechallenged mice</text>
<text x="465.6" y="307" font-size="5.9" fill="#333" stroke="#333" stroke-width="0.16">NI-3201 late (<tspan font-style="italic">n</tspan> = 8)</text>
<text x="7.8" y="358.1" font-size="14" font-weight="bold" fill="#000">I</text>
<text x="7.7" y="372.8" font-size="5.92" font-weight="bold" fill="#1a1a1a" stroke="#1a1a1a" stroke-width="0.12">huCD28-transgenic mice</text>
<g transform="translate(-3 346.2) scale(1)">
<path d="M10.6 38.9 C10.9 40.6 12.6 40.9 14.6 40.0 C17.4 38.7 19.3 35.2 22.0 34.4 C25.0 33.6 27.8 34.8 30.0 38.4" fill="none" stroke="#1a1a1a" stroke-width="1.35" stroke-linecap="round"/>
<path d="M14.8 39.7 C17.4 38.5 19.3 35.1 22.0 34.5 C24.8 33.8 27.0 34.6 28.6 36.2" fill="none" stroke="#d4a872" stroke-width="0.6" stroke-linecap="round"/>
<path d="M29.7 38.0 C24.2 38.0 20.7 42.0 20.5 47.0 C19.3 48.8 19.0 51.8 20.6 53.6 C22.6 56.2 26.0 60.4 29.7 61.4 C33.4 60.4 36.8 56.2 38.8 53.6 C40.4 51.8 40.1 48.8 38.9 47.0 C38.7 42.0 35.2 38.0 29.7 38.0 Z" fill="#161616"/>
<ellipse cx="23.7" cy="51.7" rx="3.8" ry="2.7" fill="#f2cd95"/>
<path d="M20 51.0 Q23.7 47.3 27.4 51.0" fill="none" stroke="#6b4a2a" stroke-width="0.55"/>
<ellipse cx="35.9" cy="51.7" rx="3.8" ry="2.7" fill="#f2cd95"/>
<path d="M32.2 51.0 Q35.9 47.3 39.6 51.0" fill="none" stroke="#6b4a2a" stroke-width="0.55"/>
<circle cx="27.2" cy="56.7" r="0.75" fill="#6a6a6a"/>
<circle cx="32.3" cy="56.7" r="0.75" fill="#6a6a6a"/>
<ellipse cx="29.7" cy="60.5" rx="1.3" ry="0.95" fill="#f47fb8"/>
<line x1="26.1" y1="58.4" x2="21.8" y2="57.5" stroke="#555" stroke-width="0.7"/>
<line x1="26.1" y1="58.4" x2="21.8" y2="57.5" stroke="#f4f4f4" stroke-width="0.35"/>
<line x1="26.1" y1="59.1" x2="21.5" y2="60" stroke="#555" stroke-width="0.7"/>
<line x1="26.1" y1="59.1" x2="21.5" y2="60" stroke="#f4f4f4" stroke-width="0.35"/>
<line x1="26.1" y1="59.7" x2="22.3" y2="62.6" stroke="#555" stroke-width="0.7"/>
<line x1="26.1" y1="59.7" x2="22.3" y2="62.6" stroke="#f4f4f4" stroke-width="0.35"/>
<line x1="33.3" y1="58.4" x2="37.6" y2="57.5" stroke="#555" stroke-width="0.7"/>
<line x1="33.3" y1="58.4" x2="37.6" y2="57.5" stroke="#f4f4f4" stroke-width="0.35"/>
<line x1="33.3" y1="59.1" x2="37.9" y2="60" stroke="#555" stroke-width="0.7"/>
<line x1="33.3" y1="59.1" x2="37.9" y2="60" stroke="#f4f4f4" stroke-width="0.35"/>
<line x1="33.3" y1="59.7" x2="37.1" y2="62.6" stroke="#555" stroke-width="0.7"/>
<line x1="33.3" y1="59.7" x2="37.1" y2="62.6" stroke="#f4f4f4" stroke-width="0.35"/>
</g>
<text x="50.4" y="388.2" font-size="5.8" font-weight="bold" fill="#1a1a1a" stroke="#1a1a1a" stroke-width="0.12">Day 0</text>
<text x="93.8" y="388.4" font-size="5.8" font-weight="bold" fill="#1a1a1a" stroke="#1a1a1a" stroke-width="0.12">Day 7</text>
<text x="120" y="388.4" font-size="5.8" font-weight="bold" fill="#1a1a1a" stroke="#1a1a1a" stroke-width="0.12">Day 11</text>
<text x="150.2" y="388.4" font-size="5.8" font-weight="bold" fill="#1a1a1a" stroke="#1a1a1a" stroke-width="0.12">Day 15</text>
<polygon points="57.4,393.4 144.7,393.4 144.7,388.6 160.7,398 144.7,407.4 144.7,403.1 57.4,403.1" fill="#c9c3c0"/>
<polygon points="57.1,392.5 144.4,392.5 144.4,387.7 160.4,397.1 144.4,406.5 144.4,402.2 57.1,402.2" fill="#287d8f"/>
<line x1="57.7" y1="407.64" x2="57.7" y2="415.4" stroke="#444" stroke-width="0.85"/>
<polygon points="57.7,405.4 55.95,408.6 59.45,408.6" fill="#111"/>
<line x1="102.1" y1="407.44" x2="102.1" y2="417.1" stroke="#7db3bf" stroke-width="0.85"/>
<polygon points="102.1,405.2 100.35,408.4 103.85,408.4" fill="#1f7486"/>
<line x1="128.5" y1="407.44" x2="128.5" y2="417.1" stroke="#7db3bf" stroke-width="0.85"/>
<polygon points="128.5,405.2 126.75,408.4 130.25,408.4" fill="#1f7486"/>
<line x1="157.9" y1="404.6" x2="157.9" y2="412.4" stroke="#c8202a" stroke-width="0.8"/>
<polygon points="157.9,414.8 156.3,411.8 159.5,411.8" fill="#c8202a"/>
<text x="57.7" y="423.1" font-size="6" font-weight="bold" text-anchor="middle" fill="#1a1a1a" stroke="#1a1a1a" stroke-width="0.12">OVA-MC38</text>
<text x="57.7" y="430.5" font-size="6" font-weight="bold" text-anchor="middle" fill="#1a1a1a" stroke="#1a1a1a" stroke-width="0.12">(subcutaneously)</text>
<text x="118" y="423.9" font-size="5.9" text-anchor="middle" fill="#3a3a3a" stroke="#3a3a3a" stroke-width="0.16">Treatment (2X)</text>
<text x="160.1" y="423.6" font-size="5.92" font-weight="bold" text-anchor="middle" fill="#c8202a" stroke="#c8202a" stroke-width="0.12">TME and dLN</text>
<text x="160.1" y="430.2" font-size="5.92" font-weight="bold" text-anchor="middle" fill="#c8202a" stroke="#c8202a" stroke-width="0.12">analyses</text>
<text x="199.3" y="360" font-size="14" font-weight="bold" fill="#000">J</text>
<line x1="241.4" y1="356" x2="241.4" y2="434.9" stroke="#1a1a1a" stroke-width="0.8"/>
<line x1="239.6" y1="434.9" x2="241.4" y2="434.9" stroke="#1a1a1a" stroke-width="0.8"/>
<text x="238.6" y="436.9" font-size="5.6" font-weight="bold" text-anchor="end" fill="#2a2a2a" stroke="#2a2a2a" stroke-width="0.12">0</text>
<line x1="239.6" y1="408.6" x2="241.4" y2="408.6" stroke="#1a1a1a" stroke-width="0.8"/>
<text x="238.6" y="410.6" font-size="5.6" font-weight="bold" text-anchor="end" fill="#2a2a2a" stroke="#2a2a2a" stroke-width="0.12">500</text>
<line x1="239.6" y1="382.3" x2="241.4" y2="382.3" stroke="#1a1a1a" stroke-width="0.8"/>
<text x="238.6" y="384.3" font-size="5.6" font-weight="bold" text-anchor="end" fill="#2a2a2a" stroke="#2a2a2a" stroke-width="0.12">1,000</text>
<line x1="239.6" y1="356" x2="241.4" y2="356" stroke="#1a1a1a" stroke-width="0.8"/>
<text x="238.6" y="358" font-size="5.6" font-weight="bold" text-anchor="end" fill="#2a2a2a" stroke="#2a2a2a" stroke-width="0.12">1,500</text>
<line x1="240.3" y1="429.64" x2="241.4" y2="429.64" stroke="#1a1a1a" stroke-width="0.6"/>
<line x1="240.3" y1="424.38" x2="241.4" y2="424.38" stroke="#1a1a1a" stroke-width="0.6"/>
<line x1="240.3" y1="419.12" x2="241.4" y2="419.12" stroke="#1a1a1a" stroke-width="0.6"/>
<line x1="240.3" y1="413.86" x2="241.4" y2="413.86" stroke="#1a1a1a" stroke-width="0.6"/>
<line x1="240.3" y1="408.6" x2="241.4" y2="408.6" stroke="#1a1a1a" stroke-width="0.6"/>
<line x1="240.3" y1="403.34" x2="241.4" y2="403.34" stroke="#1a1a1a" stroke-width="0.6"/>
<line x1="240.3" y1="398.08" x2="241.4" y2="398.08" stroke="#1a1a1a" stroke-width="0.6"/>
<line x1="240.3" y1="392.82" x2="241.4" y2="392.82" stroke="#1a1a1a" stroke-width="0.6"/>
<line x1="240.3" y1="387.56" x2="241.4" y2="387.56" stroke="#1a1a1a" stroke-width="0.6"/>
<line x1="240.3" y1="382.3" x2="241.4" y2="382.3" stroke="#1a1a1a" stroke-width="0.6"/>
<line x1="240.3" y1="377.04" x2="241.4" y2="377.04" stroke="#1a1a1a" stroke-width="0.6"/>
<line x1="240.3" y1="371.78" x2="241.4" y2="371.78" stroke="#1a1a1a" stroke-width="0.6"/>
<line x1="240.3" y1="366.52" x2="241.4" y2="366.52" stroke="#1a1a1a" stroke-width="0.6"/>
<line x1="240.3" y1="361.26" x2="241.4" y2="361.26" stroke="#1a1a1a" stroke-width="0.6"/>
<line x1="241.4" y1="434.9" x2="287.7" y2="434.9" stroke="#1a1a1a" stroke-width="0.8"/>
<line x1="241.4" y1="434.9" x2="241.4" y2="436.6" stroke="#1a1a1a" stroke-width="0.8"/>
<text x="241.4" y="444.2" font-size="5.6" font-weight="bold" text-anchor="middle" fill="#2a2a2a" stroke="#2a2a2a" stroke-width="0.12">0</text>
<line x1="261.4" y1="434.9" x2="261.4" y2="436.6" stroke="#1a1a1a" stroke-width="0.8"/>
<text x="261.4" y="444.2" font-size="5.6" font-weight="bold" text-anchor="middle" fill="#2a2a2a" stroke="#2a2a2a" stroke-width="0.12">7</text>
<line x1="281.4" y1="434.9" x2="281.4" y2="436.6" stroke="#1a1a1a" stroke-width="0.8"/>
<text x="281.4" y="444.2" font-size="5.6" font-weight="bold" text-anchor="middle" fill="#2a2a2a" stroke="#2a2a2a" stroke-width="0.12">14</text>
<line x1="244.26" y1="434.9" x2="244.26" y2="435.9" stroke="#1a1a1a" stroke-width="0.6"/>
<line x1="247.11" y1="434.9" x2="247.11" y2="435.9" stroke="#1a1a1a" stroke-width="0.6"/>
<line x1="249.97" y1="434.9" x2="249.97" y2="435.9" stroke="#1a1a1a" stroke-width="0.6"/>
<line x1="252.83" y1="434.9" x2="252.83" y2="435.9" stroke="#1a1a1a" stroke-width="0.6"/>
<line x1="255.69" y1="434.9" x2="255.69" y2="435.9" stroke="#1a1a1a" stroke-width="0.6"/>
<line x1="258.54" y1="434.9" x2="258.54" y2="435.9" stroke="#1a1a1a" stroke-width="0.6"/>
<line x1="261.4" y1="434.9" x2="261.4" y2="435.9" stroke="#1a1a1a" stroke-width="0.6"/>
<line x1="264.26" y1="434.9" x2="264.26" y2="435.9" stroke="#1a1a1a" stroke-width="0.6"/>
<line x1="267.11" y1="434.9" x2="267.11" y2="435.9" stroke="#1a1a1a" stroke-width="0.6"/>
<line x1="269.97" y1="434.9" x2="269.97" y2="435.9" stroke="#1a1a1a" stroke-width="0.6"/>
<line x1="272.83" y1="434.9" x2="272.83" y2="435.9" stroke="#1a1a1a" stroke-width="0.6"/>
<line x1="275.68" y1="434.9" x2="275.68" y2="435.9" stroke="#1a1a1a" stroke-width="0.6"/>
<line x1="278.54" y1="434.9" x2="278.54" y2="435.9" stroke="#1a1a1a" stroke-width="0.6"/>
<line x1="281.4" y1="434.9" x2="281.4" y2="435.9" stroke="#1a1a1a" stroke-width="0.6"/>
<line x1="284.25" y1="434.9" x2="284.25" y2="435.9" stroke="#1a1a1a" stroke-width="0.6"/>
<text x="262.2" y="452" font-size="6.1" font-weight="bold" text-anchor="middle" fill="#1a1a1a" stroke="#1a1a1a" stroke-width="0.12">Days after engraftment</text>
<text transform="translate(219.2 387) rotate(-90)" font-size="6" font-weight="bold" text-anchor="middle" fill="#1a1a1a" stroke="#1a1a1a" stroke-width="0.12">Tumor volume (mm<tspan font-size="3.9" dy="-2">3</tspan><tspan dy="2">)</tspan></text>
<polyline points="241.4,434.9 252.83,423.85 261.4,415.44 267.11,405.44 272.83,395.98 281.4,387.56" fill="none" stroke="#777" stroke-width="0.9"/>
<line x1="252.83" y1="425.96" x2="252.83" y2="421.75" stroke="#777" stroke-width="0.6"/>
<line x1="251.83" y1="425.96" x2="253.83" y2="425.96" stroke="#777" stroke-width="0.6"/>
<line x1="251.83" y1="421.75" x2="253.83" y2="421.75" stroke="#777" stroke-width="0.6"/>
<circle cx="252.83" cy="423.85" r="1.45" fill="#6a6a6a"/>
<line x1="261.4" y1="417.54" x2="261.4" y2="413.33" stroke="#777" stroke-width="0.6"/>
<line x1="260.4" y1="417.54" x2="262.4" y2="417.54" stroke="#777" stroke-width="0.6"/>
<line x1="260.4" y1="413.33" x2="262.4" y2="413.33" stroke="#777" stroke-width="0.6"/>
<circle cx="261.4" cy="415.44" r="1.45" fill="#6a6a6a"/>
<line x1="267.11" y1="407.55" x2="267.11" y2="403.34" stroke="#777" stroke-width="0.6"/>
<line x1="266.11" y1="407.55" x2="268.11" y2="407.55" stroke="#777" stroke-width="0.6"/>
<line x1="266.11" y1="403.34" x2="268.11" y2="403.34" stroke="#777" stroke-width="0.6"/>
<circle cx="267.11" cy="405.44" r="1.45" fill="#6a6a6a"/>
<line x1="272.83" y1="398.08" x2="272.83" y2="393.87" stroke="#777" stroke-width="0.6"/>
<line x1="271.83" y1="398.08" x2="273.83" y2="398.08" stroke="#777" stroke-width="0.6"/>
<line x1="271.83" y1="393.87" x2="273.83" y2="393.87" stroke="#777" stroke-width="0.6"/>
<circle cx="272.83" cy="395.98" r="1.45" fill="#6a6a6a"/>
<line x1="281.4" y1="389.66" x2="281.4" y2="385.46" stroke="#777" stroke-width="0.6"/>
<line x1="280.4" y1="389.66" x2="282.4" y2="389.66" stroke="#777" stroke-width="0.6"/>
<line x1="280.4" y1="385.46" x2="282.4" y2="385.46" stroke="#777" stroke-width="0.6"/>
<circle cx="281.4" cy="387.56" r="1.45" fill="#6a6a6a"/>
<polyline points="241.4,434.9 252.83,423.85 261.4,416.49 267.11,410.18 272.83,402.81 281.4,402.81" fill="none" stroke="#1f93b6" stroke-width="1"/>
<line x1="252.83" y1="425.43" x2="252.83" y2="422.28" stroke="#1f93b6" stroke-width="0.6"/>
<line x1="251.83" y1="425.43" x2="253.83" y2="425.43" stroke="#1f93b6" stroke-width="0.6"/>
<line x1="251.83" y1="422.28" x2="253.83" y2="422.28" stroke="#1f93b6" stroke-width="0.6"/>
<circle cx="252.83" cy="423.85" r="1.45" fill="#1f93b6"/>
<line x1="261.4" y1="418.07" x2="261.4" y2="414.91" stroke="#1f93b6" stroke-width="0.6"/>
<line x1="260.4" y1="418.07" x2="262.4" y2="418.07" stroke="#1f93b6" stroke-width="0.6"/>
<line x1="260.4" y1="414.91" x2="262.4" y2="414.91" stroke="#1f93b6" stroke-width="0.6"/>
<circle cx="261.4" cy="416.49" r="1.45" fill="#1f93b6"/>
<line x1="267.11" y1="411.76" x2="267.11" y2="408.6" stroke="#1f93b6" stroke-width="0.6"/>
<line x1="266.11" y1="411.76" x2="268.11" y2="411.76" stroke="#1f93b6" stroke-width="0.6"/>
<line x1="266.11" y1="408.6" x2="268.11" y2="408.6" stroke="#1f93b6" stroke-width="0.6"/>
<circle cx="267.11" cy="410.18" r="1.45" fill="#1f93b6"/>
<line x1="272.83" y1="405.44" x2="272.83" y2="400.18" stroke="#1f93b6" stroke-width="0.6"/>
<line x1="271.83" y1="405.44" x2="273.83" y2="405.44" stroke="#1f93b6" stroke-width="0.6"/>
<line x1="271.83" y1="400.18" x2="273.83" y2="400.18" stroke="#1f93b6" stroke-width="0.6"/>
<circle cx="272.83" cy="402.81" r="1.45" fill="#1f93b6"/>
<line x1="281.4" y1="405.44" x2="281.4" y2="400.18" stroke="#1f93b6" stroke-width="0.6"/>
<line x1="280.4" y1="405.44" x2="282.4" y2="405.44" stroke="#1f93b6" stroke-width="0.6"/>
<line x1="280.4" y1="400.18" x2="282.4" y2="400.18" stroke="#1f93b6" stroke-width="0.6"/>
<circle cx="281.4" cy="402.81" r="1.45" fill="#1f93b6"/>
<polyline points="286,386.5 290,386.5 290,404.1 286,404.1" fill="none" stroke="#333" stroke-width="0.85"/>
<polygon points="293.8,392.2 294.25,393.28 295.42,393.37 294.53,394.14 294.8,395.28 293.8,394.66 292.8,395.28 293.07,394.14 292.18,393.37 293.35,393.28" fill="#1a1a1a"/>
<line x1="251.3" y1="359.8" x2="258.8" y2="359.8" stroke="#777" stroke-width="1"/>
<circle cx="255" cy="359.8" r="1.2" fill="#777"/>
<text x="262" y="361.9" font-size="5.9" fill="#444" stroke="#444" stroke-width="0.16">Vehicle</text>
<line x1="251.3" y1="370.4" x2="258.8" y2="370.4" stroke="#1f93b6" stroke-width="1"/>
<circle cx="255" cy="370.4" r="1.2" fill="#1f93b6"/>
<text x="262" y="372.5" font-size="5.9" fill="#444" stroke="#444" stroke-width="0.16">NI-3201</text>
<text x="323.7" y="357.3" font-size="14" font-weight="bold" fill="#000">L</text>
<text x="343.1" y="368.6" font-size="5.92" font-weight="bold" fill="#1a1a1a" stroke="#1a1a1a" stroke-width="0.12">huCD28-transgenic mice</text>
<g transform="translate(332.6 341.6) scale(1)">
<path d="M10.6 38.9 C10.9 40.6 12.6 40.9 14.6 40.0 C17.4 38.7 19.3 35.2 22.0 34.4 C25.0 33.6 27.8 34.8 30.0 38.4" fill="none" stroke="#1a1a1a" stroke-width="1.35" stroke-linecap="round"/>
<path d="M14.8 39.7 C17.4 38.5 19.3 35.1 22.0 34.5 C24.8 33.8 27.0 34.6 28.6 36.2" fill="none" stroke="#d4a872" stroke-width="0.6" stroke-linecap="round"/>
<path d="M29.7 38.0 C24.2 38.0 20.7 42.0 20.5 47.0 C19.3 48.8 19.0 51.8 20.6 53.6 C22.6 56.2 26.0 60.4 29.7 61.4 C33.4 60.4 36.8 56.2 38.8 53.6 C40.4 51.8 40.1 48.8 38.9 47.0 C38.7 42.0 35.2 38.0 29.7 38.0 Z" fill="#161616"/>
<ellipse cx="23.7" cy="51.7" rx="3.8" ry="2.7" fill="#f2cd95"/>
<path d="M20 51.0 Q23.7 47.3 27.4 51.0" fill="none" stroke="#6b4a2a" stroke-width="0.55"/>
<ellipse cx="35.9" cy="51.7" rx="3.8" ry="2.7" fill="#f2cd95"/>
<path d="M32.2 51.0 Q35.9 47.3 39.6 51.0" fill="none" stroke="#6b4a2a" stroke-width="0.55"/>
<circle cx="27.2" cy="56.7" r="0.75" fill="#6a6a6a"/>
<circle cx="32.3" cy="56.7" r="0.75" fill="#6a6a6a"/>
<ellipse cx="29.7" cy="60.5" rx="1.3" ry="0.95" fill="#f47fb8"/>
<line x1="26.1" y1="58.4" x2="21.8" y2="57.5" stroke="#555" stroke-width="0.7"/>
<line x1="26.1" y1="58.4" x2="21.8" y2="57.5" stroke="#f4f4f4" stroke-width="0.35"/>
<line x1="26.1" y1="59.1" x2="21.5" y2="60" stroke="#555" stroke-width="0.7"/>
<line x1="26.1" y1="59.1" x2="21.5" y2="60" stroke="#f4f4f4" stroke-width="0.35"/>
<line x1="26.1" y1="59.7" x2="22.3" y2="62.6" stroke="#555" stroke-width="0.7"/>
<line x1="26.1" y1="59.7" x2="22.3" y2="62.6" stroke="#f4f4f4" stroke-width="0.35"/>
<line x1="33.3" y1="58.4" x2="37.6" y2="57.5" stroke="#555" stroke-width="0.7"/>
<line x1="33.3" y1="58.4" x2="37.6" y2="57.5" stroke="#f4f4f4" stroke-width="0.35"/>
<line x1="33.3" y1="59.1" x2="37.9" y2="60" stroke="#555" stroke-width="0.7"/>
<line x1="33.3" y1="59.1" x2="37.9" y2="60" stroke="#f4f4f4" stroke-width="0.35"/>
<line x1="33.3" y1="59.7" x2="37.1" y2="62.6" stroke="#555" stroke-width="0.7"/>
<line x1="33.3" y1="59.7" x2="37.1" y2="62.6" stroke="#f4f4f4" stroke-width="0.35"/>
</g>
<text x="386.7" y="383.4" font-size="5.8" font-weight="bold" fill="#1a1a1a" stroke="#1a1a1a" stroke-width="0.12">Day 0</text>
<text x="420.3" y="383.6" font-size="5.8" font-weight="bold" fill="#1a1a1a" stroke="#1a1a1a" stroke-width="0.12">Day 7</text>
<text x="446" y="383.6" font-size="5.8" font-weight="bold" fill="#1a1a1a" stroke="#1a1a1a" stroke-width="0.12">Day 11</text>
<polygon points="393.4,389 478,389 478,383.6 493.3,393.45 478,403.3 478,398.8 393.4,398.8" fill="#c9c3c0"/>
<polygon points="393.1,388.1 477.7,388.1 477.7,382.7 493,392.55 477.7,402.4 477.7,397.9 393.1,397.9" fill="#287d8f"/>
<line x1="418.8" y1="400.5" x2="477.7" y2="400.5" stroke="#5cc4dc" stroke-width="1.8"/>
<line x1="393.5" y1="403.44" x2="393.5" y2="410.2" stroke="#444" stroke-width="0.85"/>
<polygon points="393.5,401.2 391.75,404.4 395.25,404.4" fill="#111"/>
<line x1="428.1" y1="405.54" x2="428.1" y2="414.2" stroke="#7db3bf" stroke-width="0.85"/>
<polygon points="428.1,403.3 426.35,406.5 429.85,406.5" fill="#1f7486"/>
<line x1="454.6" y1="405.54" x2="454.6" y2="414.2" stroke="#7db3bf" stroke-width="0.85"/>
<polygon points="454.6,403.3 452.85,406.5 456.35,406.5" fill="#1f7486"/>
<text x="393.5" y="418.6" font-size="6" font-weight="bold" text-anchor="middle" fill="#1a1a1a" stroke="#1a1a1a" stroke-width="0.12">OVA-MC38</text>
<text x="393.5" y="425.7" font-size="6" font-weight="bold" text-anchor="middle" fill="#1a1a1a" stroke="#1a1a1a" stroke-width="0.12">(subcutaneously)</text>
<text x="440.8" y="421.3" font-size="5.9" text-anchor="middle" fill="#3a3a3a" stroke="#3a3a3a" stroke-width="0.16">Antibody</text>
<text x="440.8" y="428.4" font-size="5.9" text-anchor="middle" fill="#3a3a3a" stroke="#3a3a3a" stroke-width="0.16">treatment</text>
<text x="460.4" y="410.1" font-size="5.9" fill="#5cc4dc" stroke="#5cc4dc" stroke-width="0.16">FTY720</text>
<text x="460.4" y="417.4" font-size="5.9" fill="#5cc4dc" stroke="#5cc4dc" stroke-width="0.16">administration</text>
<text x="4.9" y="472.5" font-size="14" font-weight="bold" fill="#000">K</text>
<circle cx="40.3" cy="497.5" r="4.2" fill="#eebcc5"/>
<circle cx="20.4" cy="505" r="4.6" fill="#eebcc5"/>
<circle cx="50.9" cy="507" r="3.8" fill="#eebcc5"/>
<circle cx="38.5" cy="530.3" r="5" fill="#efc2ca"/>
<circle cx="27" cy="530" r="3.6" fill="#efc2ca"/>
<circle cx="47.5" cy="526" r="3.6" fill="#eebcc5"/>
<circle cx="33.2" cy="501.3" r="5.8" fill="#dc8392" stroke="#d07584" stroke-width="0.5"/>
<circle cx="22.6" cy="511.7" r="5.6" fill="#df8a97" stroke="#d07584" stroke-width="0.5"/>
<circle cx="26.2" cy="523.2" r="6" fill="#da7f8e" stroke="#d07584" stroke-width="0.5"/>
<circle cx="47.4" cy="518.3" r="5.2" fill="#da7f8e" stroke="#d07584" stroke-width="0.5"/>
<circle cx="32.4" cy="502.8" r="2.6" fill="#cf7b89"/>
<circle cx="25.7" cy="523.2" r="2.9" fill="#c9798a"/>
<circle cx="47.4" cy="518.3" r="2.6" fill="#cf7b89"/>
<circle cx="43.4" cy="507.7" r="6.6" fill="#d3627a" stroke="#bd5066" stroke-width="0.6"/>
<circle cx="39.4" cy="521" r="7" fill="#d3627a" stroke="#bd5066" stroke-width="0.6"/>
<circle cx="33.2" cy="512.1" r="8" fill="#d3627a" stroke="#bd5066" stroke-width="0.6"/>
<circle cx="43.4" cy="508.1" r="3.2" fill="#b53a51"/>
<circle cx="40.3" cy="521" r="3.3" fill="#b53a51"/>
<circle cx="33.7" cy="512.6" r="3.4" fill="#b53a51"/>
<line x1="100.8" y1="486" x2="100.8" y2="551.2" stroke="#1a1a1a" stroke-width="0.9"/>
<line x1="99.2" y1="550.8" x2="100.8" y2="550.8" stroke="#1a1a1a" stroke-width="0.8"/>
<text x="98.4" y="552.8" font-size="5.6" font-weight="bold" text-anchor="end" fill="#2a2a2a" stroke="#2a2a2a" stroke-width="0.12">0</text>
<line x1="99.2" y1="529.2" x2="100.8" y2="529.2" stroke="#1a1a1a" stroke-width="0.8"/>
<text x="98.4" y="531.2" font-size="5.6" font-weight="bold" text-anchor="end" fill="#2a2a2a" stroke="#2a2a2a" stroke-width="0.12">50</text>
<line x1="99.2" y1="507.6" x2="100.8" y2="507.6" stroke="#1a1a1a" stroke-width="0.8"/>
<text x="98.4" y="509.6" font-size="5.6" font-weight="bold" text-anchor="end" fill="#2a2a2a" stroke="#2a2a2a" stroke-width="0.12">100</text>
<line x1="99.2" y1="486" x2="100.8" y2="486" stroke="#1a1a1a" stroke-width="0.8"/>
<text x="98.4" y="488" font-size="5.6" font-weight="bold" text-anchor="end" fill="#2a2a2a" stroke="#2a2a2a" stroke-width="0.12">150</text>
<line x1="100.8" y1="550.8" x2="152.7" y2="550.8" stroke="#1a1a1a" stroke-width="1"/>
<line x1="115.6" y1="550.8" x2="115.6" y2="553" stroke="#1a1a1a" stroke-width="0.8"/>
<line x1="137.3" y1="550.8" x2="137.3" y2="553" stroke="#1a1a1a" stroke-width="0.8"/>
<text x="125.6" y="481" font-size="5.9" font-weight="bold" text-anchor="middle" fill="#1a1a1a" stroke="#1a1a1a" stroke-width="0.12">CD3<tspan font-size="3.6" dy="-2">+</tspan><tspan dy="2"> T cells</tspan></text>
<text transform="translate(83.2 519.4) rotate(-90)" font-size="5.9" font-weight="bold" text-anchor="middle" fill="#1a1a1a" stroke="#1a1a1a" stroke-width="0.12">Count/mg of tumor</text>
<line x1="115.6" y1="494.6" x2="137.3" y2="494.6" stroke="#888" stroke-width="0.75"/>
<polygon points="127.05,489.3 127.55,490.51 128.86,490.61 127.86,491.46 128.17,492.74 127.05,492.06 125.93,492.74 126.24,491.46 125.24,490.61 126.55,490.51" fill="#1a1a1a"/>
<line x1="115.6" y1="539.14" x2="115.6" y2="549.94" stroke="#777" stroke-width="0.7"/>
<line x1="113.2" y1="539.14" x2="118" y2="539.14" stroke="#777" stroke-width="0.7"/>
<line x1="113.2" y1="549.94" x2="118" y2="549.94" stroke="#777" stroke-width="0.7"/>
<line x1="110.4" y1="545.62" x2="120.8" y2="545.62" stroke="#777" stroke-width="0.9"/>
<circle cx="115.6" cy="531.36" r="0.85" fill="#555"/>
<circle cx="112.6" cy="547.34" r="0.85" fill="#555"/>
<circle cx="114.6" cy="548.64" r="0.85" fill="#555"/>
<circle cx="117.6" cy="548.21" r="0.85" fill="#555"/>
<circle cx="119.6" cy="549.5" r="0.85" fill="#555"/>
<circle cx="111.6" cy="549.94" r="0.85" fill="#555"/>
<line x1="137.3" y1="517.1" x2="137.3" y2="547.78" stroke="#3aa6cc" stroke-width="0.8"/>
<line x1="134.9" y1="517.1" x2="139.7" y2="517.1" stroke="#3aa6cc" stroke-width="0.8"/>
<line x1="134.9" y1="547.78" x2="139.7" y2="547.78" stroke="#3aa6cc" stroke-width="0.8"/>
<line x1="132.1" y1="532.22" x2="142.5" y2="532.22" stroke="#444" stroke-width="0.9"/>
<circle cx="137.3" cy="501.98" r="1" fill="#1f93b6"/>
<circle cx="137.3" cy="528.34" r="1" fill="#1f93b6"/>
<circle cx="140.3" cy="529.2" r="1" fill="#1f93b6"/>
<circle cx="136.3" cy="532.66" r="1" fill="#1f93b6"/>
<circle cx="137.3" cy="542.16" r="1" fill="#1f93b6"/>
<circle cx="137.3" cy="546.48" r="1" fill="#1f93b6"/>
<circle cx="137.3" cy="547.78" r="1" fill="#1f93b6"/>
<circle cx="137.3" cy="549.94" r="1" fill="#1f93b6"/>
<line x1="182.7" y1="486" x2="182.7" y2="551.2" stroke="#1a1a1a" stroke-width="0.9"/>
<line x1="181.1" y1="550.8" x2="182.7" y2="550.8" stroke="#1a1a1a" stroke-width="0.8"/>
<text x="180.3" y="552.8" font-size="5.6" font-weight="bold" text-anchor="end" fill="#2a2a2a" stroke="#2a2a2a" stroke-width="0.12">0</text>
<line x1="181.1" y1="529.2" x2="182.7" y2="529.2" stroke="#1a1a1a" stroke-width="0.8"/>
<text x="180.3" y="531.2" font-size="5.6" font-weight="bold" text-anchor="end" fill="#2a2a2a" stroke="#2a2a2a" stroke-width="0.12">5</text>
<line x1="181.1" y1="507.6" x2="182.7" y2="507.6" stroke="#1a1a1a" stroke-width="0.8"/>
<text x="180.3" y="509.6" font-size="5.6" font-weight="bold" text-anchor="end" fill="#2a2a2a" stroke="#2a2a2a" stroke-width="0.12">10</text>
<line x1="181.1" y1="486" x2="182.7" y2="486" stroke="#1a1a1a" stroke-width="0.8"/>
<text x="180.3" y="488" font-size="5.6" font-weight="bold" text-anchor="end" fill="#2a2a2a" stroke="#2a2a2a" stroke-width="0.12">15</text>
<line x1="182.7" y1="550.8" x2="234" y2="550.8" stroke="#1a1a1a" stroke-width="1"/>
<line x1="197.5" y1="550.8" x2="197.5" y2="553" stroke="#1a1a1a" stroke-width="0.8"/>
<line x1="219.2" y1="550.8" x2="219.2" y2="553" stroke="#1a1a1a" stroke-width="0.8"/>
<text x="212" y="481.6" font-size="5.9" font-weight="bold" text-anchor="middle" fill="#1a1a1a" stroke="#1a1a1a" stroke-width="0.12">CD4<tspan font-size="3.6" dy="-2">+</tspan><tspan dy="2"> T cells</tspan></text>
<text transform="translate(167.7 519.4) rotate(-90)" font-size="5.9" font-weight="bold" text-anchor="middle" fill="#1a1a1a" stroke="#1a1a1a" stroke-width="0.12">Count/mg of tumor</text>
<line x1="197.5" y1="528.34" x2="197.5" y2="549.94" stroke="#777" stroke-width="0.7"/>
<line x1="195.1" y1="528.34" x2="199.9" y2="528.34" stroke="#777" stroke-width="0.7"/>
<line x1="195.1" y1="549.94" x2="199.9" y2="549.94" stroke="#777" stroke-width="0.7"/>
<line x1="192.3" y1="542.16" x2="202.7" y2="542.16" stroke="#777" stroke-width="0.9"/>
<circle cx="197.5" cy="511.06" r="0.85" fill="#555"/>
<circle cx="193.5" cy="548.21" r="0.85" fill="#555"/>
<circle cx="195.5" cy="546.48" r="0.85" fill="#555"/>
<circle cx="199" cy="545.62" r="0.85" fill="#555"/>
<circle cx="201" cy="549.07" r="0.85" fill="#555"/>
<circle cx="197" cy="549.5" r="0.85" fill="#555"/>
<line x1="219.2" y1="521.86" x2="219.2" y2="549.94" stroke="#3aa6cc" stroke-width="0.8"/>
<line x1="216.8" y1="521.86" x2="221.6" y2="521.86" stroke="#3aa6cc" stroke-width="0.8"/>
<line x1="216.8" y1="549.94" x2="221.6" y2="549.94" stroke="#3aa6cc" stroke-width="0.8"/>
<line x1="214" y1="536.54" x2="224.4" y2="536.54" stroke="#444" stroke-width="0.9"/>
<circle cx="219.2" cy="506.3" r="1" fill="#1f93b6"/>
<circle cx="219.2" cy="530.5" r="1" fill="#1f93b6"/>
<circle cx="219.2" cy="536.54" r="1" fill="#1f93b6"/>
<circle cx="219.2" cy="541.3" r="1" fill="#1f93b6"/>
<circle cx="219.2" cy="544.32" r="1" fill="#1f93b6"/>
<circle cx="221.2" cy="546.48" r="1" fill="#1f93b6"/>
<circle cx="217.2" cy="548.21" r="1" fill="#1f93b6"/>
<circle cx="219.2" cy="549.5" r="1" fill="#1f93b6"/>
<text x="231.5" y="549.4" font-size="6" text-anchor="middle" fill="#444" stroke="#444" stroke-width="0.16">ns</text>
<line x1="265" y1="488.3" x2="265" y2="551.2" stroke="#1a1a1a" stroke-width="0.9"/>
<line x1="263.4" y1="550.8" x2="265" y2="550.8" stroke="#1a1a1a" stroke-width="0.8"/>
<text x="262.6" y="552.8" font-size="5.6" font-weight="bold" text-anchor="end" fill="#2a2a2a" stroke="#2a2a2a" stroke-width="0.12">0</text>
<line x1="263.4" y1="535.17" x2="265" y2="535.17" stroke="#1a1a1a" stroke-width="0.8"/>
<text x="262.6" y="537.17" font-size="5.6" font-weight="bold" text-anchor="end" fill="#2a2a2a" stroke="#2a2a2a" stroke-width="0.12">20</text>
<line x1="263.4" y1="519.55" x2="265" y2="519.55" stroke="#1a1a1a" stroke-width="0.8"/>
<text x="262.6" y="521.55" font-size="5.6" font-weight="bold" text-anchor="end" fill="#2a2a2a" stroke="#2a2a2a" stroke-width="0.12">40</text>
<line x1="263.4" y1="503.93" x2="265" y2="503.93" stroke="#1a1a1a" stroke-width="0.8"/>
<text x="262.6" y="505.93" font-size="5.6" font-weight="bold" text-anchor="end" fill="#2a2a2a" stroke="#2a2a2a" stroke-width="0.12">60</text>
<line x1="263.4" y1="488.3" x2="265" y2="488.3" stroke="#1a1a1a" stroke-width="0.8"/>
<text x="262.6" y="490.3" font-size="5.6" font-weight="bold" text-anchor="end" fill="#2a2a2a" stroke="#2a2a2a" stroke-width="0.12">80</text>
<line x1="265" y1="550.8" x2="316.5" y2="550.8" stroke="#1a1a1a" stroke-width="1"/>
<line x1="281.3" y1="550.8" x2="281.3" y2="553" stroke="#1a1a1a" stroke-width="0.8"/>
<line x1="301.9" y1="550.8" x2="301.9" y2="553" stroke="#1a1a1a" stroke-width="0.8"/>
<text x="289" y="482.8" font-size="5.9" font-weight="bold" text-anchor="middle" fill="#1a1a1a" stroke="#1a1a1a" stroke-width="0.12">CD8<tspan font-size="3.6" dy="-2">+</tspan><tspan dy="2"> T cells</tspan></text>
<text transform="translate(250.2 520.55) rotate(-90)" font-size="5.9" font-weight="bold" text-anchor="middle" fill="#1a1a1a" stroke="#1a1a1a" stroke-width="0.12">Count/mg of tumor</text>
<line x1="281.3" y1="491.7" x2="301.9" y2="491.7" stroke="#888" stroke-width="0.75"/>
<polygon points="292.2,486.4 292.7,487.61 294.01,487.71 293.01,488.56 293.32,489.84 292.2,489.16 291.08,489.84 291.39,488.56 290.39,487.71 291.7,487.61" fill="#1a1a1a"/>
<line x1="281.3" y1="547.28" x2="281.3" y2="550.41" stroke="#777" stroke-width="0.7"/>
<line x1="278.9" y1="547.28" x2="283.7" y2="547.28" stroke="#777" stroke-width="0.7"/>
<line x1="278.9" y1="550.41" x2="283.7" y2="550.41" stroke="#777" stroke-width="0.7"/>
<line x1="276.1" y1="549.24" x2="286.5" y2="549.24" stroke="#777" stroke-width="0.9"/>
<circle cx="281.3" cy="545.33" r="0.85" fill="#555"/>
<circle cx="278.3" cy="548.85" r="0.85" fill="#555"/>
<circle cx="280.3" cy="549.24" r="0.85" fill="#555"/>
<circle cx="283.3" cy="548.46" r="0.85" fill="#555"/>
<circle cx="284.8" cy="549.63" r="0.85" fill="#555"/>
<circle cx="277.3" cy="550.02" r="0.85" fill="#555"/>
<line x1="301.9" y1="519.16" x2="301.9" y2="550.8" stroke="#3aa6cc" stroke-width="0.8"/>
<line x1="299.5" y1="519.16" x2="304.3" y2="519.16" stroke="#3aa6cc" stroke-width="0.8"/>
<line x1="299.5" y1="550.8" x2="304.3" y2="550.8" stroke="#3aa6cc" stroke-width="0.8"/>
<line x1="296.7" y1="536.35" x2="307.1" y2="536.35" stroke="#444" stroke-width="0.9"/>
<circle cx="301.9" cy="500.02" r="1" fill="#1f93b6"/>
<circle cx="300.9" cy="535.17" r="1" fill="#1f93b6"/>
<circle cx="302.9" cy="535.17" r="1" fill="#1f93b6"/>
<circle cx="301.9" cy="542.99" r="1" fill="#1f93b6"/>
<circle cx="301.9" cy="544.55" r="1" fill="#1f93b6"/>
<circle cx="301.9" cy="546.89" r="1" fill="#1f93b6"/>
<circle cx="301.9" cy="550.02" r="1" fill="#1f93b6"/>
<line x1="26.8" y1="574.7" x2="26.8" y2="642.2" stroke="#1a1a1a" stroke-width="0.9"/>
<line x1="25.2" y1="642.2" x2="26.8" y2="642.2" stroke="#1a1a1a" stroke-width="0.8"/>
<text x="24.4" y="644.2" font-size="5.6" font-weight="bold" text-anchor="end" fill="#2a2a2a" stroke="#2a2a2a" stroke-width="0.12">0</text>
<line x1="25.2" y1="625.33" x2="26.8" y2="625.33" stroke="#1a1a1a" stroke-width="0.8"/>
<text x="24.4" y="627.33" font-size="5.6" font-weight="bold" text-anchor="end" fill="#2a2a2a" stroke="#2a2a2a" stroke-width="0.12">20</text>
<line x1="25.2" y1="608.45" x2="26.8" y2="608.45" stroke="#1a1a1a" stroke-width="0.8"/>
<text x="24.4" y="610.45" font-size="5.6" font-weight="bold" text-anchor="end" fill="#2a2a2a" stroke="#2a2a2a" stroke-width="0.12">40</text>
<line x1="25.2" y1="591.58" x2="26.8" y2="591.58" stroke="#1a1a1a" stroke-width="0.8"/>
<text x="24.4" y="593.58" font-size="5.6" font-weight="bold" text-anchor="end" fill="#2a2a2a" stroke="#2a2a2a" stroke-width="0.12">60</text>
<line x1="25.2" y1="574.7" x2="26.8" y2="574.7" stroke="#1a1a1a" stroke-width="0.8"/>
<text x="24.4" y="576.7" font-size="5.6" font-weight="bold" text-anchor="end" fill="#2a2a2a" stroke="#2a2a2a" stroke-width="0.12">80</text>
<line x1="26.8" y1="642.2" x2="80.5" y2="642.2" stroke="#1a1a1a" stroke-width="1"/>
<line x1="42.4" y1="642.2" x2="42.4" y2="644.4" stroke="#1a1a1a" stroke-width="0.8"/>
<line x1="65.4" y1="642.2" x2="65.4" y2="644.4" stroke="#1a1a1a" stroke-width="0.8"/>
<text x="58" y="571" font-size="5.9" font-weight="bold" text-anchor="middle" fill="#1a1a1a" stroke="#1a1a1a" stroke-width="0.12">Central memory</text>
<text transform="translate(10.1 607.3) rotate(-90)" font-size="6.15" font-weight="bold" text-anchor="middle" fill="#222" stroke="none">T<tspan font-size="4.0" dy="1.5">CM</tspan><tspan dy="-1.5"> (% of CD8</tspan><tspan font-size="4.0" dy="-2.2">+</tspan><tspan dy="2.2"> T cells)</tspan></text>
<line x1="42.4" y1="591.58" x2="42.4" y2="615.2" stroke="#aaa" stroke-width="0.7"/>
<line x1="40" y1="591.58" x2="44.8" y2="591.58" stroke="#aaa" stroke-width="0.7"/>
<line x1="40" y1="615.2" x2="44.8" y2="615.2" stroke="#aaa" stroke-width="0.7"/>
<line x1="37.2" y1="603.39" x2="47.6" y2="603.39" stroke="#666" stroke-width="0.9"/>
<circle cx="42.4" cy="586.51" r="0.85" fill="#555"/>
<circle cx="42.4" cy="590.73" r="0.85" fill="#555"/>
<circle cx="40.4" cy="601.7" r="0.85" fill="#555"/>
<circle cx="44.4" cy="602.54" r="0.85" fill="#555"/>
<circle cx="41.4" cy="606.76" r="0.85" fill="#555"/>
<circle cx="44.4" cy="608.45" r="0.85" fill="#555"/>
<circle cx="42.4" cy="620.26" r="0.85" fill="#555"/>
<line x1="65.4" y1="589.04" x2="65.4" y2="604.23" stroke="#3aa6cc" stroke-width="0.8"/>
<line x1="63" y1="589.04" x2="67.8" y2="589.04" stroke="#3aa6cc" stroke-width="0.8"/>
<line x1="63" y1="604.23" x2="67.8" y2="604.23" stroke="#3aa6cc" stroke-width="0.8"/>
<line x1="60.2" y1="596.64" x2="70.6" y2="596.64" stroke="#444" stroke-width="0.9"/>
<circle cx="65.4" cy="588.2" r="1" fill="#1f93b6"/>
<circle cx="64.4" cy="589.89" r="1" fill="#1f93b6"/>
<circle cx="63.4" cy="594.11" r="1" fill="#1f93b6"/>
<circle cx="67.4" cy="597.48" r="1" fill="#1f93b6"/>
<circle cx="64.4" cy="598.33" r="1" fill="#1f93b6"/>
<circle cx="67.4" cy="600.86" r="1" fill="#1f93b6"/>
<circle cx="65.4" cy="610.98" r="1" fill="#1f93b6"/>
<text x="77.2" y="640.8" font-size="6" text-anchor="middle" fill="#444" stroke="#444" stroke-width="0.16">ns</text>
<line x1="106.8" y1="574.7" x2="106.8" y2="642.2" stroke="#1a1a1a" stroke-width="0.9"/>
<line x1="105.2" y1="642.2" x2="106.8" y2="642.2" stroke="#1a1a1a" stroke-width="0.8"/>
<text x="104.4" y="644.2" font-size="5.6" font-weight="bold" text-anchor="end" fill="#2a2a2a" stroke="#2a2a2a" stroke-width="0.12">20</text>
<line x1="105.2" y1="625.33" x2="106.8" y2="625.33" stroke="#1a1a1a" stroke-width="0.8"/>
<text x="104.4" y="627.33" font-size="5.6" font-weight="bold" text-anchor="end" fill="#2a2a2a" stroke="#2a2a2a" stroke-width="0.12">30</text>
<line x1="105.2" y1="608.45" x2="106.8" y2="608.45" stroke="#1a1a1a" stroke-width="0.8"/>
<text x="104.4" y="610.45" font-size="5.6" font-weight="bold" text-anchor="end" fill="#2a2a2a" stroke="#2a2a2a" stroke-width="0.12">40</text>
<line x1="105.2" y1="591.58" x2="106.8" y2="591.58" stroke="#1a1a1a" stroke-width="0.8"/>
<text x="104.4" y="593.58" font-size="5.6" font-weight="bold" text-anchor="end" fill="#2a2a2a" stroke="#2a2a2a" stroke-width="0.12">50</text>
<line x1="105.2" y1="574.7" x2="106.8" y2="574.7" stroke="#1a1a1a" stroke-width="0.8"/>
<text x="104.4" y="576.7" font-size="5.6" font-weight="bold" text-anchor="end" fill="#2a2a2a" stroke="#2a2a2a" stroke-width="0.12">60</text>
<line x1="106.8" y1="642.2" x2="160.5" y2="642.2" stroke="#1a1a1a" stroke-width="1"/>
<line x1="122.4" y1="642.2" x2="122.4" y2="644.4" stroke="#1a1a1a" stroke-width="0.8"/>
<line x1="145.4" y1="642.2" x2="145.4" y2="644.4" stroke="#1a1a1a" stroke-width="0.8"/>
<text x="132.8" y="571" font-size="5.9" font-weight="bold" text-anchor="middle" fill="#1a1a1a" stroke="#1a1a1a" stroke-width="0.12">Effector</text>
<text transform="translate(92.5 607.3) rotate(-90)" font-size="6.15" font-weight="bold" text-anchor="middle" fill="#222" stroke="none">T<tspan font-size="4.0" dy="1.5">EM</tspan><tspan dy="-1.5"> (% of CD8</tspan><tspan font-size="4.0" dy="-2.2">+</tspan><tspan dy="2.2"> T cells)</tspan></text>
<line x1="122.4" y1="590.73" x2="122.4" y2="624.48" stroke="#aaa" stroke-width="0.7"/>
<line x1="120" y1="590.73" x2="124.8" y2="590.73" stroke="#aaa" stroke-width="0.7"/>
<line x1="120" y1="624.48" x2="124.8" y2="624.48" stroke="#aaa" stroke-width="0.7"/>
<line x1="117.2" y1="607.61" x2="127.6" y2="607.61" stroke="#666" stroke-width="0.9"/>
<circle cx="120.9" cy="589.89" r="0.85" fill="#555"/>
<circle cx="124.2" cy="590.73" r="0.85" fill="#555"/>
<circle cx="122.4" cy="594.95" r="0.85" fill="#555"/>
<circle cx="122.4" cy="603.39" r="0.85" fill="#555"/>
<circle cx="120.4" cy="620.26" r="0.85" fill="#555"/>
<circle cx="124.4" cy="621.95" r="0.85" fill="#555"/>
<circle cx="122.4" cy="628.7" r="0.85" fill="#555"/>
<line x1="145.4" y1="595.79" x2="145.4" y2="618.58" stroke="#3aa6cc" stroke-width="0.8"/>
<line x1="143" y1="595.79" x2="147.8" y2="595.79" stroke="#3aa6cc" stroke-width="0.8"/>
<line x1="143" y1="618.58" x2="147.8" y2="618.58" stroke="#3aa6cc" stroke-width="0.8"/>
<line x1="140.2" y1="606.76" x2="150.6" y2="606.76" stroke="#444" stroke-width="0.9"/>
<circle cx="145.4" cy="589.04" r="1" fill="#1f93b6"/>
<circle cx="145.4" cy="596.64" r="1" fill="#1f93b6"/>
<circle cx="145.4" cy="605.08" r="1" fill="#1f93b6"/>
<circle cx="145.4" cy="610.14" r="1" fill="#1f93b6"/>
<circle cx="145.4" cy="616.89" r="1" fill="#1f93b6"/>
<circle cx="145.4" cy="622.79" r="1" fill="#1f93b6"/>
<text x="157.6" y="640.8" font-size="6" text-anchor="middle" fill="#444" stroke="#444" stroke-width="0.16">ns</text>
<line x1="186.8" y1="574.7" x2="186.8" y2="642.2" stroke="#1a1a1a" stroke-width="0.9"/>
<line x1="185.2" y1="642.2" x2="186.8" y2="642.2" stroke="#1a1a1a" stroke-width="0.8"/>
<text x="184.4" y="644.2" font-size="5.6" font-weight="bold" text-anchor="end" fill="#2a2a2a" stroke="#2a2a2a" stroke-width="0.12">40</text>
<line x1="185.2" y1="625.33" x2="186.8" y2="625.33" stroke="#1a1a1a" stroke-width="0.8"/>
<text x="184.4" y="627.33" font-size="5.6" font-weight="bold" text-anchor="end" fill="#2a2a2a" stroke="#2a2a2a" stroke-width="0.12">50</text>
<line x1="185.2" y1="608.45" x2="186.8" y2="608.45" stroke="#1a1a1a" stroke-width="0.8"/>
<text x="184.4" y="610.45" font-size="5.6" font-weight="bold" text-anchor="end" fill="#2a2a2a" stroke="#2a2a2a" stroke-width="0.12">60</text>
<line x1="185.2" y1="591.58" x2="186.8" y2="591.58" stroke="#1a1a1a" stroke-width="0.8"/>
<text x="184.4" y="593.58" font-size="5.6" font-weight="bold" text-anchor="end" fill="#2a2a2a" stroke="#2a2a2a" stroke-width="0.12">70</text>
<line x1="185.2" y1="574.7" x2="186.8" y2="574.7" stroke="#1a1a1a" stroke-width="0.8"/>
<text x="184.4" y="576.7" font-size="5.6" font-weight="bold" text-anchor="end" fill="#2a2a2a" stroke="#2a2a2a" stroke-width="0.12">80</text>
<line x1="186.8" y1="642.2" x2="240.5" y2="642.2" stroke="#1a1a1a" stroke-width="1"/>
<line x1="202" y1="642.2" x2="202" y2="644.4" stroke="#1a1a1a" stroke-width="0.8"/>
<line x1="224.9" y1="642.2" x2="224.9" y2="644.4" stroke="#1a1a1a" stroke-width="0.8"/>
<text x="211.6" y="571" font-size="5.9" font-weight="bold" text-anchor="middle" fill="#1a1a1a" stroke="#1a1a1a" stroke-width="0.12">Central memory</text>
<text transform="translate(170.8 607.3) rotate(-90)" font-size="6.15" font-weight="bold" text-anchor="middle" fill="#222" stroke="none">T<tspan font-size="4.0" dy="1.5">CM</tspan><tspan dy="-1.5"> (% of CD4</tspan><tspan font-size="4.0" dy="-2.2">+</tspan><tspan dy="2.2"> T cells)</tspan></text>
<line x1="202" y1="596.3" x2="202" y2="609.29" stroke="#aaa" stroke-width="0.7"/>
<line x1="199.6" y1="596.3" x2="204.4" y2="596.3" stroke="#aaa" stroke-width="0.7"/>
<line x1="199.6" y1="609.29" x2="204.4" y2="609.29" stroke="#aaa" stroke-width="0.7"/>
<line x1="196.8" y1="603.39" x2="207.2" y2="603.39" stroke="#666" stroke-width="0.9"/>
<circle cx="202" cy="589.89" r="0.85" fill="#555"/>
<circle cx="202" cy="601.7" r="0.85" fill="#555"/>
<circle cx="200" cy="603.39" r="0.85" fill="#555"/>
<circle cx="204" cy="606.76" r="0.85" fill="#555"/>
<circle cx="201" cy="608.45" r="0.85" fill="#555"/>
<circle cx="203" cy="610.14" r="0.85" fill="#555"/>
<line x1="224.9" y1="587.36" x2="224.9" y2="614.36" stroke="#3aa6cc" stroke-width="0.8"/>
<line x1="222.5" y1="587.36" x2="227.3" y2="587.36" stroke="#3aa6cc" stroke-width="0.8"/>
<line x1="222.5" y1="614.36" x2="227.3" y2="614.36" stroke="#3aa6cc" stroke-width="0.8"/>
<line x1="219.7" y1="600.86" x2="230.1" y2="600.86" stroke="#444" stroke-width="0.9"/>
<circle cx="224.9" cy="582.29" r="1" fill="#1f93b6"/>
<circle cx="224.9" cy="588.2" r="1" fill="#1f93b6"/>
<circle cx="224.9" cy="598.33" r="1" fill="#1f93b6"/>
<circle cx="222.9" cy="605.08" r="1" fill="#1f93b6"/>
<circle cx="226.9" cy="606.76" r="1" fill="#1f93b6"/>
<circle cx="224.9" cy="623.64" r="1" fill="#1f93b6"/>
<text x="237" y="640.8" font-size="6" text-anchor="middle" fill="#444" stroke="#444" stroke-width="0.16">ns</text>
<line x1="266.8" y1="574.7" x2="266.8" y2="642.2" stroke="#1a1a1a" stroke-width="0.9"/>
<line x1="265.2" y1="642.2" x2="266.8" y2="642.2" stroke="#1a1a1a" stroke-width="0.8"/>
<text x="264.4" y="644.2" font-size="5.6" font-weight="bold" text-anchor="end" fill="#2a2a2a" stroke="#2a2a2a" stroke-width="0.12">0</text>
<line x1="265.2" y1="628.7" x2="266.8" y2="628.7" stroke="#1a1a1a" stroke-width="0.8"/>
<text x="264.4" y="630.7" font-size="5.6" font-weight="bold" text-anchor="end" fill="#2a2a2a" stroke="#2a2a2a" stroke-width="0.12">10</text>
<line x1="265.2" y1="615.2" x2="266.8" y2="615.2" stroke="#1a1a1a" stroke-width="0.8"/>
<text x="264.4" y="617.2" font-size="5.6" font-weight="bold" text-anchor="end" fill="#2a2a2a" stroke="#2a2a2a" stroke-width="0.12">20</text>
<line x1="265.2" y1="601.7" x2="266.8" y2="601.7" stroke="#1a1a1a" stroke-width="0.8"/>
<text x="264.4" y="603.7" font-size="5.6" font-weight="bold" text-anchor="end" fill="#2a2a2a" stroke="#2a2a2a" stroke-width="0.12">30</text>
<line x1="265.2" y1="588.2" x2="266.8" y2="588.2" stroke="#1a1a1a" stroke-width="0.8"/>
<text x="264.4" y="590.2" font-size="5.6" font-weight="bold" text-anchor="end" fill="#2a2a2a" stroke="#2a2a2a" stroke-width="0.12">40</text>
<line x1="265.2" y1="574.7" x2="266.8" y2="574.7" stroke="#1a1a1a" stroke-width="0.8"/>
<text x="264.4" y="576.7" font-size="5.6" font-weight="bold" text-anchor="end" fill="#2a2a2a" stroke="#2a2a2a" stroke-width="0.12">50</text>
<line x1="266.8" y1="642.2" x2="320" y2="642.2" stroke="#1a1a1a" stroke-width="1"/>
<line x1="282" y1="642.2" x2="282" y2="644.4" stroke="#1a1a1a" stroke-width="0.8"/>
<line x1="304.9" y1="642.2" x2="304.9" y2="644.4" stroke="#1a1a1a" stroke-width="0.8"/>
<text x="292.3" y="571" font-size="5.9" font-weight="bold" text-anchor="middle" fill="#1a1a1a" stroke="#1a1a1a" stroke-width="0.12">Effector</text>
<text transform="translate(250.8 607.3) rotate(-90)" font-size="6.15" font-weight="bold" text-anchor="middle" fill="#222" stroke="none">T<tspan font-size="4.0" dy="1.5">EM</tspan><tspan dy="-1.5"> (% of CD4</tspan><tspan font-size="4.0" dy="-2.2">+</tspan><tspan dy="2.2"> T cells)</tspan></text>
<line x1="282" y1="593.6" x2="282" y2="603.05" stroke="#aaa" stroke-width="0.7"/>
<line x1="279.6" y1="593.6" x2="284.4" y2="593.6" stroke="#aaa" stroke-width="0.7"/>
<line x1="279.6" y1="603.05" x2="284.4" y2="603.05" stroke="#aaa" stroke-width="0.7"/>
<line x1="276.8" y1="598.33" x2="287.2" y2="598.33" stroke="#666" stroke-width="0.9"/>
<circle cx="282" cy="590.9" r="0.85" fill="#555"/>
<circle cx="280" cy="593.6" r="0.85" fill="#555"/>
<circle cx="284" cy="594.95" r="0.85" fill="#555"/>
<circle cx="282" cy="599" r="0.85" fill="#555"/>
<circle cx="280" cy="600.35" r="0.85" fill="#555"/>
<circle cx="284" cy="601.7" r="0.85" fill="#555"/>
<circle cx="282" cy="605.75" r="0.85" fill="#555"/>
<line x1="304.9" y1="588.2" x2="304.9" y2="609.12" stroke="#3aa6cc" stroke-width="0.8"/>
<line x1="302.5" y1="588.2" x2="307.3" y2="588.2" stroke="#3aa6cc" stroke-width="0.8"/>
<line x1="302.5" y1="609.12" x2="307.3" y2="609.12" stroke="#3aa6cc" stroke-width="0.8"/>
<line x1="299.7" y1="598.6" x2="310.1" y2="598.6" stroke="#444" stroke-width="0.9"/>
<circle cx="304.9" cy="581.45" r="1" fill="#1f93b6"/>
<circle cx="304.9" cy="588.2" r="1" fill="#1f93b6"/>
<circle cx="304.9" cy="590.9" r="1" fill="#1f93b6"/>
<circle cx="304.9" cy="594.95" r="1" fill="#1f93b6"/>
<circle cx="304.9" cy="599" r="1" fill="#1f93b6"/>
<circle cx="304.9" cy="604.4" r="1" fill="#1f93b6"/>
<circle cx="304.9" cy="608.45" r="1" fill="#1f93b6"/>
<circle cx="304.9" cy="613.85" r="1" fill="#1f93b6"/>
<text x="316.2" y="640.8" font-size="6" text-anchor="middle" fill="#444" stroke="#444" stroke-width="0.16">ns</text>
<text x="321.8" y="472.3" font-size="14" font-weight="bold" fill="#000">M</text>
<text x="394.7" y="477.2" font-size="5.86" font-weight="bold" text-anchor="middle" fill="#222" stroke="#222" stroke-width="0.12">Survival probability</text>
<line x1="370" y1="487.1" x2="370" y2="550.1" stroke="#1a1a1a" stroke-width="0.9"/>
<line x1="368.2" y1="549.9" x2="370" y2="549.9" stroke="#1a1a1a" stroke-width="0.8"/>
<text x="367.3" y="551.9" font-size="5.6" font-weight="bold" text-anchor="end" fill="#2a2a2a" stroke="#2a2a2a" stroke-width="0.12">0</text>
<line x1="368.2" y1="537.38" x2="370" y2="537.38" stroke="#1a1a1a" stroke-width="0.8"/>
<text x="367.3" y="539.38" font-size="5.6" font-weight="bold" text-anchor="end" fill="#2a2a2a" stroke="#2a2a2a" stroke-width="0.12">20</text>
<line x1="368.2" y1="524.86" x2="370" y2="524.86" stroke="#1a1a1a" stroke-width="0.8"/>
<text x="367.3" y="526.86" font-size="5.6" font-weight="bold" text-anchor="end" fill="#2a2a2a" stroke="#2a2a2a" stroke-width="0.12">40</text>
<line x1="368.2" y1="512.34" x2="370" y2="512.34" stroke="#1a1a1a" stroke-width="0.8"/>
<text x="367.3" y="514.34" font-size="5.6" font-weight="bold" text-anchor="end" fill="#2a2a2a" stroke="#2a2a2a" stroke-width="0.12">60</text>
<line x1="368.2" y1="499.82" x2="370" y2="499.82" stroke="#1a1a1a" stroke-width="0.8"/>
<text x="367.3" y="501.82" font-size="5.6" font-weight="bold" text-anchor="end" fill="#2a2a2a" stroke="#2a2a2a" stroke-width="0.12">80</text>
<line x1="368.2" y1="487.3" x2="370" y2="487.3" stroke="#1a1a1a" stroke-width="0.8"/>
<text x="367.3" y="489.3" font-size="5.6" font-weight="bold" text-anchor="end" fill="#2a2a2a" stroke="#2a2a2a" stroke-width="0.12">100</text>
<line x1="370" y1="550.1" x2="433.7" y2="550.1" stroke="#1a1a1a" stroke-width="0.9"/>
<line x1="370.1" y1="550.1" x2="370.1" y2="551.9" stroke="#1a1a1a" stroke-width="0.8"/>
<text x="370.1" y="559.4" font-size="5.6" font-weight="bold" text-anchor="middle" fill="#2a2a2a" stroke="#2a2a2a" stroke-width="0.12">0</text>
<line x1="382.2" y1="550.1" x2="382.2" y2="551.9" stroke="#1a1a1a" stroke-width="0.8"/>
<text x="382.2" y="559.4" font-size="5.6" font-weight="bold" text-anchor="middle" fill="#2a2a2a" stroke="#2a2a2a" stroke-width="0.12">10</text>
<line x1="394.3" y1="550.1" x2="394.3" y2="551.9" stroke="#1a1a1a" stroke-width="0.8"/>
<text x="394.3" y="559.4" font-size="5.6" font-weight="bold" text-anchor="middle" fill="#2a2a2a" stroke="#2a2a2a" stroke-width="0.12">20</text>
<line x1="406.4" y1="550.1" x2="406.4" y2="551.9" stroke="#1a1a1a" stroke-width="0.8"/>
<text x="406.4" y="559.4" font-size="5.6" font-weight="bold" text-anchor="middle" fill="#2a2a2a" stroke="#2a2a2a" stroke-width="0.12">30</text>
<line x1="418.5" y1="550.1" x2="418.5" y2="551.9" stroke="#1a1a1a" stroke-width="0.8"/>
<text x="418.5" y="559.4" font-size="5.6" font-weight="bold" text-anchor="middle" fill="#2a2a2a" stroke="#2a2a2a" stroke-width="0.12">40</text>
<line x1="430.6" y1="550.1" x2="430.6" y2="551.9" stroke="#1a1a1a" stroke-width="0.8"/>
<text x="430.6" y="559.4" font-size="5.6" font-weight="bold" text-anchor="middle" fill="#2a2a2a" stroke="#2a2a2a" stroke-width="0.12">50</text>
<text x="401.1" y="567.1" font-size="5.9" font-weight="bold" text-anchor="middle" fill="#1a1a1a" stroke="#1a1a1a" stroke-width="0.12">Days after engraftment</text>
<text transform="translate(353.2 519.5) rotate(-90)" font-size="5.9" font-weight="bold" text-anchor="middle" fill="#1a1a1a" stroke="#1a1a1a" stroke-width="0.12">Probability of survival (%)</text>
<polyline points="388.2,487.3 388.2,493.6 392,493.6 392,506.2 396.7,506.2 396.7,512.1 405.3,512.1 405.3,518.5 409.2,518.5 409.2,524.6 421.4,524.6 421.4,530.9 425.7,530.9 425.7,537.2 431,537.2" fill="none" stroke="#3a9ccc" stroke-width="1"/>
<polyline points="392,506.2 394.5,506.2 394.5,518.5 396.9,518.5 396.9,531.4 400.3,531.4 400.3,537 405.3,537 405.3,544 409.2,544 409.2,549.8" fill="none" stroke="#3cb54a" stroke-width="1"/>
<polyline points="370.1,487.3 388.2,487.3 388.2,501.1 392,501.1 392,522 394.2,522 394.2,543 400.5,543 400.5,549.8" fill="none" stroke="#9a9a9a" stroke-width="0.95"/>
<line x1="394.3" y1="543" x2="394.3" y2="549.8" stroke="#e8262c" stroke-width="1"/>
<line x1="441.7" y1="492.7" x2="449.1" y2="492.7" stroke="#999" stroke-width="1"/>
<text x="453.4" y="494.8" font-size="5.9" fill="#333" stroke="#333" stroke-width="0.16">Vehicle</text>
<line x1="441.7" y1="500.5" x2="449.1" y2="500.5" stroke="#e8262c" stroke-width="1"/>
<text x="453.4" y="502.6" font-size="5.9" fill="#333" stroke="#333" stroke-width="0.16">FTY720</text>
<line x1="441.7" y1="509.4" x2="449.1" y2="509.4" stroke="#3a9ccc" stroke-width="1"/>
<text x="453.4" y="511.5" font-size="5.9" fill="#333" stroke="#333" stroke-width="0.16">NI-3201</text>
<line x1="441.7" y1="517.8" x2="449.1" y2="517.8" stroke="#3cb54a" stroke-width="1"/>
<text x="453.4" y="519.9" font-size="5.9" fill="#333" stroke="#333" stroke-width="0.16">NI-3201 + FTY720</text>
<polyline points="481,492.7 483,492.7 483,509 481,509" fill="none" stroke="#1a1a1a" stroke-width="0.8"/>
<polygon points="486.3,498.7 486.8,499.91 488.11,500.01 487.11,500.86 487.42,502.14 486.3,501.46 485.18,502.14 485.49,500.86 484.49,500.01 485.8,499.91" fill="#1a1a1a"/>
<polyline points="494.6,500.5 496.7,500.5 496.7,509 494.6,509" fill="none" stroke="#1a1a1a" stroke-width="0.8"/>
<polygon points="499.5,503.3 500,504.51 501.31,504.61 500.31,505.46 500.62,506.74 499.5,506.06 498.38,506.74 498.69,505.46 497.69,504.61 499,504.51" fill="#1a1a1a"/>
</svg>
</body></html>
